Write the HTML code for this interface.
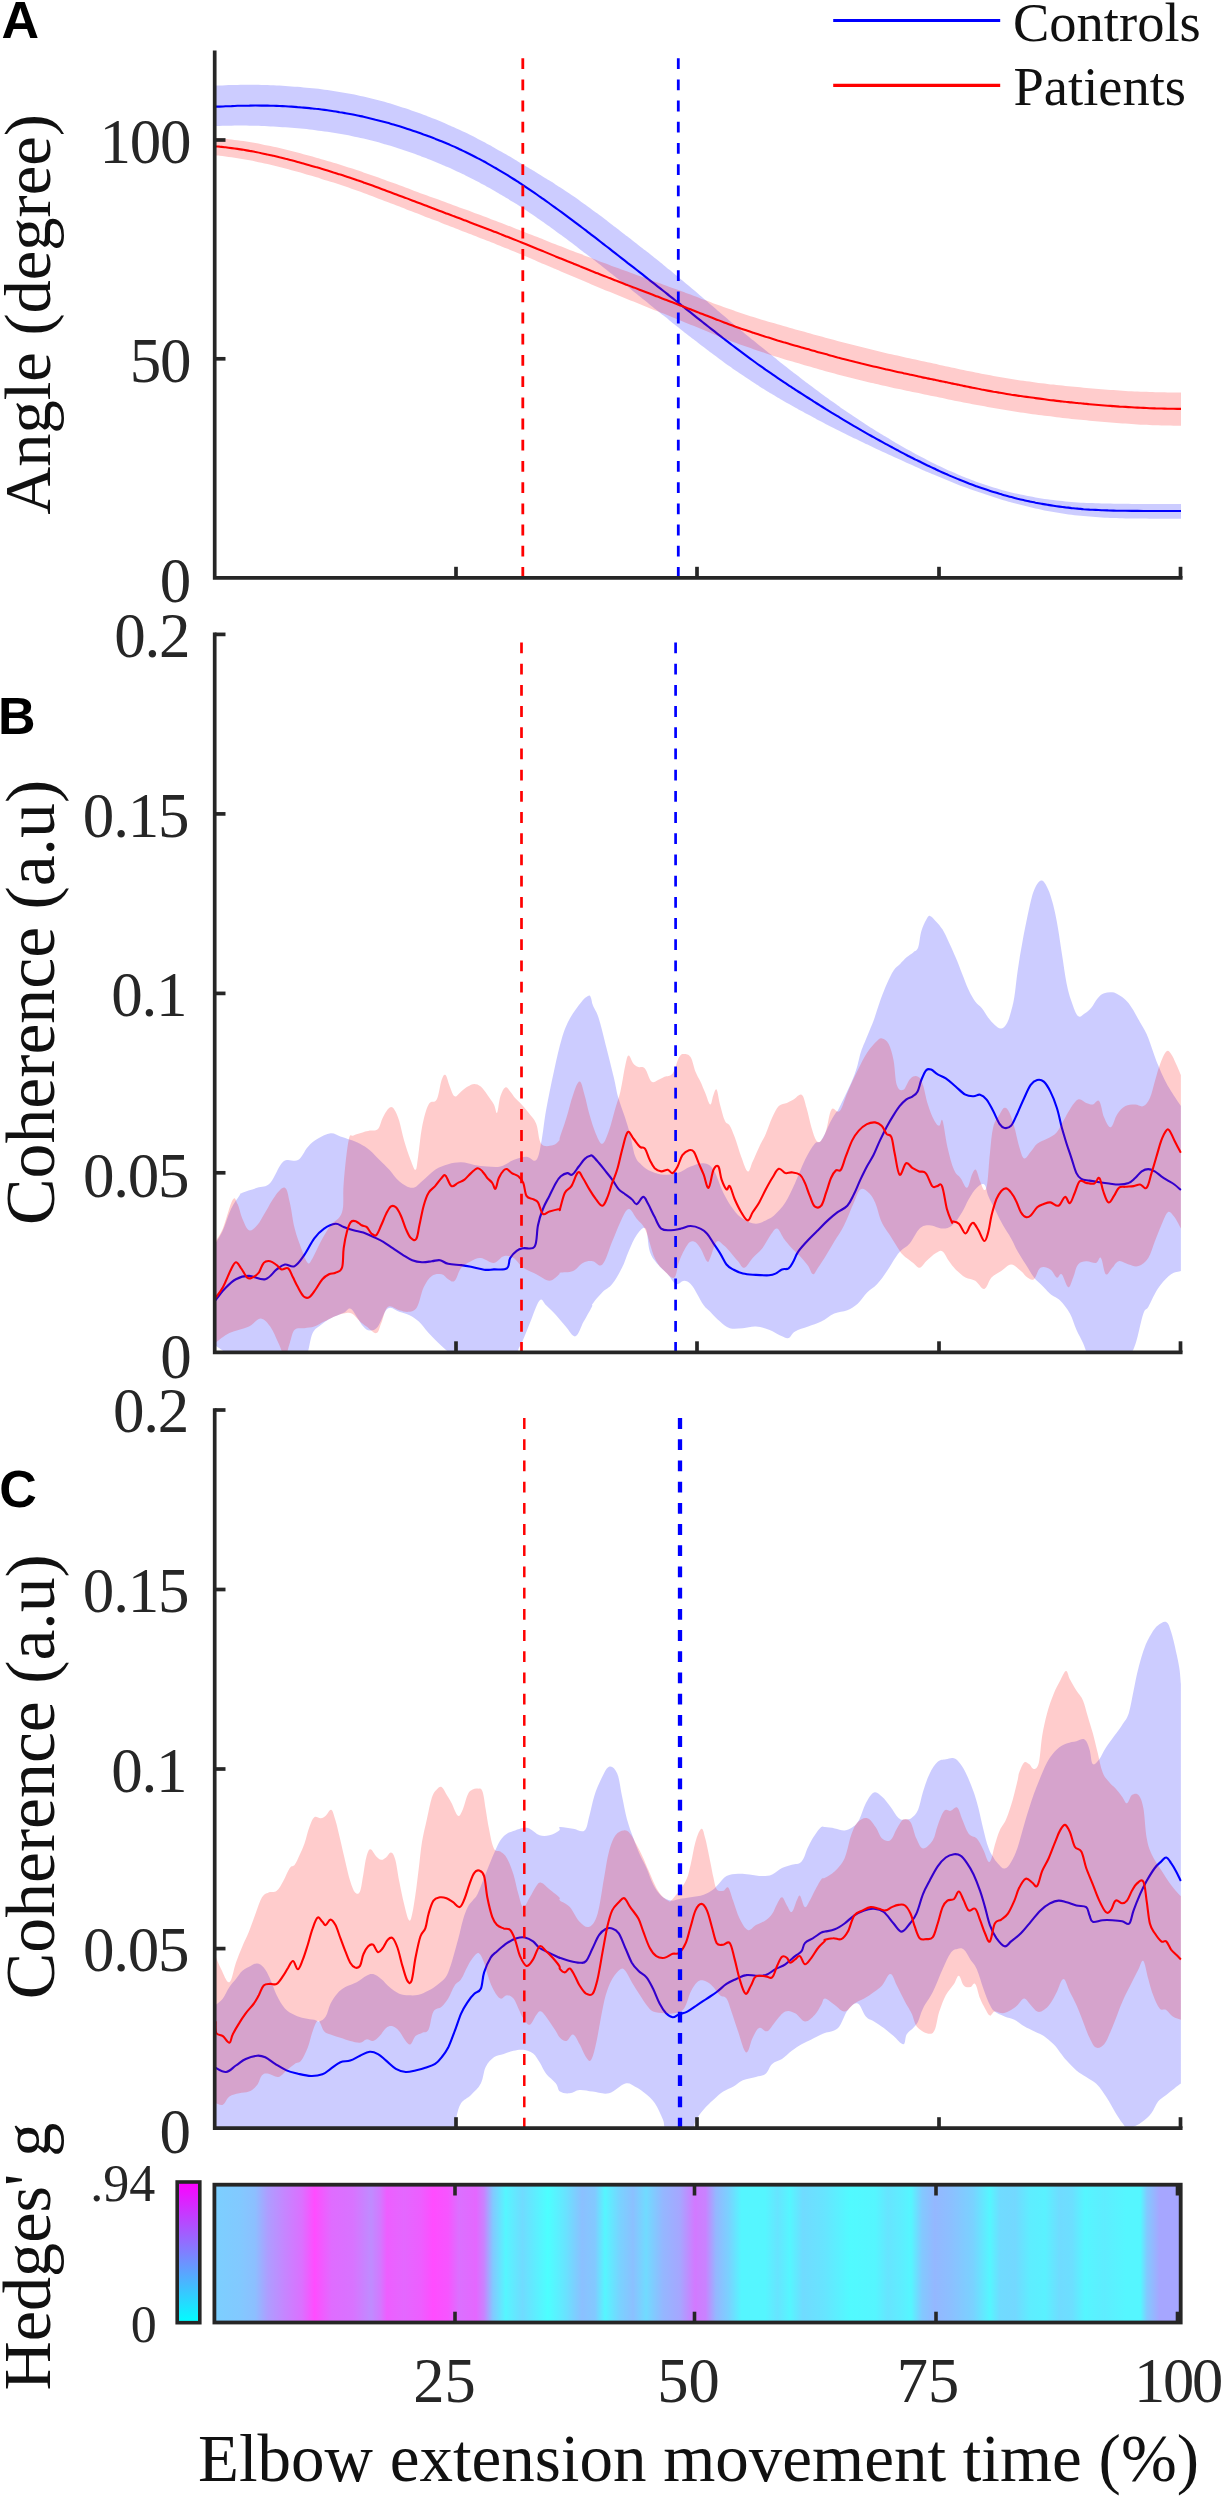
<!DOCTYPE html>
<html><head><meta charset="utf-8"><title>Figure</title>
<style>html,body{margin:0;padding:0;background:#fff}svg{display:block}</style></head>
<body>
<svg width="1225" height="2500" viewBox="0 0 1225 2500">
<defs>
<clipPath id="clipa"><rect x="214.7" y="50" width="967.0" height="527.6"/></clipPath>
<clipPath id="clipb"><rect x="214.7" y="634.4" width="967.0" height="717.9"/></clipPath>
<clipPath id="clipc"><rect x="214.7" y="1410" width="967.0" height="718.1999999999998"/></clipPath>
<linearGradient id="hm" gradientUnits="userSpaceOnUse" x1="214" y1="0" x2="1181" y2="0"><stop offset="0.0010" stop-color="rgb(124,207,255)"/><stop offset="0.0269" stop-color="rgb(130,201,255)"/><stop offset="0.0424" stop-color="rgb(140,191,255)"/><stop offset="0.0558" stop-color="rgb(174,157,255)"/><stop offset="0.0734" stop-color="rgb(198,133,255)"/><stop offset="0.0910" stop-color="rgb(219,112,255)"/><stop offset="0.1040" stop-color="rgb(255,76,255)"/><stop offset="0.1117" stop-color="rgb(241,90,255)"/><stop offset="0.1216" stop-color="rgb(223,108,255)"/><stop offset="0.1437" stop-color="rgb(216,115,255)"/><stop offset="0.1624" stop-color="rgb(191,140,255)"/><stop offset="0.1717" stop-color="rgb(210,121,255)"/><stop offset="0.1789" stop-color="rgb(237,94,255)"/><stop offset="0.1965" stop-color="rgb(228,103,255)"/><stop offset="0.2141" stop-color="rgb(237,94,255)"/><stop offset="0.2265" stop-color="rgb(255,76,255)"/><stop offset="0.2420" stop-color="rgb(246,85,255)"/><stop offset="0.2534" stop-color="rgb(219,112,255)"/><stop offset="0.2709" stop-color="rgb(228,103,255)"/><stop offset="0.2792" stop-color="rgb(201,130,255)"/><stop offset="0.2885" stop-color="rgb(130,201,255)"/><stop offset="0.3016" stop-color="rgb(85,246,255)"/><stop offset="0.3191" stop-color="rgb(112,219,255)"/><stop offset="0.3320" stop-color="rgb(94,237,255)"/><stop offset="0.3454" stop-color="rgb(76,255,255)"/><stop offset="0.3630" stop-color="rgb(103,228,255)"/><stop offset="0.3806" stop-color="rgb(139,192,255)"/><stop offset="0.3940" stop-color="rgb(130,201,255)"/><stop offset="0.4043" stop-color="rgb(85,246,255)"/><stop offset="0.4199" stop-color="rgb(121,210,255)"/><stop offset="0.4333" stop-color="rgb(139,192,255)"/><stop offset="0.4467" stop-color="rgb(112,219,255)"/><stop offset="0.4643" stop-color="rgb(148,183,255)"/><stop offset="0.4819" stop-color="rgb(166,166,255)"/><stop offset="0.4974" stop-color="rgb(210,121,255)"/><stop offset="0.5083" stop-color="rgb(201,130,255)"/><stop offset="0.5191" stop-color="rgb(148,183,255)"/><stop offset="0.5326" stop-color="rgb(121,210,255)"/><stop offset="0.5455" stop-color="rgb(85,246,255)"/><stop offset="0.5698" stop-color="rgb(85,246,255)"/><stop offset="0.5828" stop-color="rgb(103,228,255)"/><stop offset="0.5957" stop-color="rgb(85,246,255)"/><stop offset="0.6091" stop-color="rgb(112,219,255)"/><stop offset="0.6308" stop-color="rgb(103,228,255)"/><stop offset="0.6577" stop-color="rgb(81,250,255)"/><stop offset="0.6836" stop-color="rgb(85,246,255)"/><stop offset="0.6970" stop-color="rgb(103,228,255)"/><stop offset="0.7101" stop-color="rgb(94,237,255)"/><stop offset="0.7208" stop-color="rgb(85,246,255)"/><stop offset="0.7322" stop-color="rgb(130,201,255)"/><stop offset="0.7453" stop-color="rgb(148,183,255)"/><stop offset="0.7628" stop-color="rgb(139,192,255)"/><stop offset="0.7849" stop-color="rgb(121,210,255)"/><stop offset="0.8025" stop-color="rgb(85,246,255)"/><stop offset="0.8128" stop-color="rgb(112,219,255)"/><stop offset="0.8283" stop-color="rgb(115,216,255)"/><stop offset="0.8438" stop-color="rgb(94,237,255)"/><stop offset="0.8594" stop-color="rgb(90,241,255)"/><stop offset="0.8749" stop-color="rgb(112,219,255)"/><stop offset="0.8873" stop-color="rgb(108,223,255)"/><stop offset="0.9007" stop-color="rgb(85,246,255)"/><stop offset="0.9204" stop-color="rgb(94,237,255)"/><stop offset="0.9427" stop-color="rgb(85,246,255)"/><stop offset="0.9581" stop-color="rgb(85,246,255)"/><stop offset="0.9648" stop-color="rgb(130,201,255)"/><stop offset="0.9779" stop-color="rgb(166,166,255)"/><stop offset="1.0000" stop-color="rgb(166,166,255)"/></linearGradient>
<linearGradient id="cb" x1="0" y1="0" x2="0" y2="1"><stop offset="0" stop-color="#ff00ff"/><stop offset="1" stop-color="#00ffff"/></linearGradient>
</defs>
<path d="M215.5,85.4C216.2,85.4 217.7,85.5 219.5,85.4C221.3,85.4 223.3,85.3 225.5,85.2C227.7,85.1 229.3,85.1 231.5,85.0C233.7,85.0 235.3,84.9 237.5,84.9C239.7,84.9 241.3,84.8 243.5,84.8C245.7,84.8 247.3,84.8 249.5,84.8C251.7,84.8 253.3,84.8 255.5,84.8C257.7,84.9 259.3,84.9 261.5,85.0C263.7,85.0 265.3,85.0 267.5,85.1C269.7,85.2 271.3,85.3 273.5,85.3C275.7,85.4 277.3,85.5 279.5,85.6C281.7,85.7 283.3,85.8 285.5,86.0C287.7,86.1 289.3,86.2 291.5,86.4C293.7,86.5 295.3,86.7 297.5,86.8C299.7,87.0 301.3,87.2 303.5,87.4C305.7,87.6 307.3,87.7 309.5,87.9C311.7,88.2 313.3,88.3 315.5,88.6C317.7,88.8 319.3,89.0 321.5,89.3C323.7,89.6 325.3,89.8 327.5,90.1C329.7,90.4 331.3,90.6 333.5,91.0C335.7,91.3 337.3,91.5 339.5,91.9C341.7,92.2 343.3,92.5 345.5,92.9C347.7,93.3 349.3,93.6 351.5,94.0C353.7,94.4 355.3,94.8 357.5,95.2C359.7,95.7 361.3,96.0 363.5,96.5C365.7,97.0 367.3,97.4 369.5,97.9C371.7,98.5 373.3,98.9 375.5,99.4C377.7,100.0 379.3,100.4 381.5,101.0C383.7,101.6 385.3,102.1 387.5,102.7C389.7,103.3 391.3,103.8 393.5,104.5C395.7,105.2 397.3,105.7 399.5,106.4C401.7,107.1 403.3,107.6 405.5,108.3C407.7,109.0 409.3,109.6 411.5,110.4C413.7,111.1 415.3,111.7 417.5,112.5C419.7,113.2 421.3,113.9 423.5,114.7C425.7,115.5 427.3,116.1 429.5,117.0C431.7,117.8 433.3,118.5 435.5,119.3C437.7,120.2 439.3,120.9 441.5,121.8C443.7,122.7 445.3,123.4 447.5,124.4C449.7,125.3 451.3,126.0 453.5,127.0C455.7,128.0 457.3,128.8 459.5,129.8C461.7,130.8 463.3,131.6 465.5,132.6C467.7,133.7 469.3,134.5 471.5,135.6C473.7,136.7 475.3,137.5 477.5,138.7C479.7,139.8 481.3,140.7 483.5,141.8C485.7,143.0 487.3,143.9 489.5,145.1C491.7,146.3 493.3,147.2 495.5,148.4C497.7,149.6 499.3,150.6 501.5,151.8C503.7,153.1 505.3,154.0 507.5,155.3C509.7,156.6 511.3,157.5 513.5,158.8C515.7,160.1 517.3,161.1 519.5,162.4C521.7,163.7 523.3,164.7 525.5,166.0C527.7,167.3 529.3,168.3 531.5,169.6C533.7,170.9 535.3,171.9 537.5,173.2C539.7,174.5 541.3,175.5 543.5,176.9C545.7,178.2 547.3,179.2 549.5,180.6C551.7,181.9 553.3,183.0 555.5,184.4C557.7,185.8 559.3,186.8 561.5,188.3C563.7,189.7 565.3,190.8 567.5,192.2C569.7,193.7 571.3,194.9 573.5,196.3C575.7,197.8 577.3,199.0 579.5,200.5C581.7,202.1 583.3,203.3 585.5,204.8C587.7,206.4 589.3,207.6 591.5,209.2C593.7,210.8 595.3,212.0 597.5,213.6C599.7,215.3 601.3,216.5 603.5,218.1C605.7,219.8 607.3,221.0 609.5,222.7C611.7,224.3 613.3,225.6 615.5,227.3C617.7,228.9 619.3,230.2 621.5,231.9C623.7,233.5 625.3,234.8 627.5,236.5C629.7,238.2 631.3,239.5 633.5,241.2C635.7,242.9 637.3,244.2 639.5,245.9C641.7,247.6 643.3,248.9 645.5,250.6C647.7,252.3 649.3,253.6 651.5,255.3C653.7,257.1 655.3,258.4 657.5,260.1C659.7,261.8 661.3,263.2 663.5,264.9C665.7,266.7 667.3,268.0 669.5,269.8C671.7,271.6 673.3,272.9 675.5,274.7C677.7,276.5 679.3,277.9 681.5,279.7C683.7,281.5 685.3,282.9 687.5,284.7C689.7,286.6 691.3,288.0 693.5,289.8C695.7,291.7 697.3,293.1 699.5,295.0C701.7,296.8 703.3,298.3 705.5,300.1C707.7,302.0 709.3,303.5 711.5,305.3C713.7,307.2 715.3,308.6 717.5,310.5C719.7,312.4 721.3,313.8 723.5,315.6C725.7,317.5 727.3,318.9 729.5,320.8C731.7,322.6 733.3,324.0 735.5,325.8C737.7,327.6 739.3,329.0 741.5,330.8C743.7,332.6 745.3,334.0 747.5,335.7C749.7,337.5 751.3,338.9 753.5,340.6C755.7,342.4 757.3,343.8 759.5,345.5C761.7,347.2 763.3,348.6 765.5,350.3C767.7,352.1 769.3,353.4 771.5,355.1C773.7,356.9 775.3,358.2 777.5,359.9C779.7,361.6 781.3,363.0 783.5,364.7C785.7,366.4 787.3,367.7 789.5,369.4C791.7,371.1 793.3,372.4 795.5,374.1C797.7,375.7 799.3,377.0 801.5,378.7C803.7,380.4 805.3,381.6 807.5,383.3C809.7,384.9 811.3,386.2 813.5,387.8C815.7,389.4 817.3,390.7 819.5,392.3C821.7,393.9 823.3,395.1 825.5,396.7C827.7,398.2 829.3,399.4 831.5,401.0C833.7,402.5 835.3,403.7 837.5,405.2C839.7,406.8 841.3,407.9 843.5,409.4C845.7,410.9 847.3,412.1 849.5,413.5C851.7,415.0 853.3,416.1 855.5,417.5C857.7,419.0 859.3,420.1 861.5,421.5C863.7,422.9 865.3,424.0 867.5,425.4C869.7,426.8 871.3,427.8 873.5,429.2C875.7,430.6 877.3,431.6 879.5,433.0C881.7,434.3 883.3,435.3 885.5,436.6C887.7,437.9 889.3,438.9 891.5,440.2C893.7,441.5 895.3,442.5 897.5,443.8C899.7,445.0 901.3,446.0 903.5,447.2C905.7,448.4 907.3,449.4 909.5,450.6C911.7,451.8 913.3,452.7 915.5,453.9C917.7,455.0 919.3,455.9 921.5,457.1C923.7,458.2 925.3,459.1 927.5,460.2C929.7,461.3 931.3,462.1 933.5,463.2C935.7,464.3 937.3,465.1 939.5,466.1C941.7,467.1 943.3,467.9 945.5,468.9C947.7,469.9 949.3,470.7 951.5,471.6C953.7,472.6 955.3,473.3 957.5,474.2C959.7,475.2 961.3,475.9 963.5,476.7C965.7,477.6 967.3,478.3 969.5,479.1C971.7,480.0 973.3,480.6 975.5,481.4C977.7,482.2 979.3,482.8 981.5,483.5C983.7,484.3 985.3,484.9 987.5,485.6C989.7,486.3 991.3,486.8 993.5,487.5C995.7,488.1 997.3,488.6 999.5,489.2C1001.7,489.9 1003.3,490.3 1005.5,490.9C1007.7,491.5 1009.3,491.9 1011.5,492.4C1013.7,492.9 1015.3,493.3 1017.5,493.8C1019.7,494.3 1021.3,494.7 1023.5,495.1C1025.7,495.6 1027.3,495.9 1029.5,496.3C1031.7,496.7 1033.3,497.0 1035.5,497.4C1037.7,497.8 1039.3,498.1 1041.5,498.4C1043.7,498.7 1045.3,499.0 1047.5,499.3C1049.7,499.6 1051.3,499.8 1053.5,500.1C1055.7,500.4 1057.3,500.6 1059.5,500.8C1061.7,501.0 1063.3,501.2 1065.5,501.4C1067.7,501.6 1069.3,501.8 1071.5,501.9C1073.7,502.1 1075.3,502.2 1077.5,502.4C1079.7,502.5 1081.3,502.6 1083.5,502.8C1085.7,502.9 1087.3,503.0 1089.5,503.1C1091.7,503.2 1093.3,503.2 1095.5,503.3C1097.7,503.4 1099.3,503.4 1101.5,503.5C1103.7,503.5 1105.3,503.6 1107.5,503.6C1109.7,503.7 1111.3,503.7 1113.5,503.7C1115.7,503.7 1117.3,503.8 1119.5,503.8C1121.7,503.8 1123.3,503.8 1125.5,503.8C1127.7,503.8 1129.3,503.8 1131.5,503.9C1133.7,503.9 1135.3,503.9 1137.5,503.9C1139.7,503.9 1141.3,503.9 1143.5,503.9C1145.7,503.9 1147.3,503.9 1149.5,503.9C1151.7,503.9 1153.3,503.9 1155.5,503.9C1157.7,503.9 1159.3,503.9 1161.5,503.9C1163.7,503.9 1165.3,503.9 1167.5,503.9C1169.7,503.9 1171.3,503.9 1173.5,503.9C1175.7,503.9 1178.2,503.9 1179.5,503.9C1180.8,503.9 1180.7,503.9 1181.0,503.9L1181.0,518.8C1180.7,518.8 1180.8,518.8 1179.5,518.8C1178.2,518.8 1175.7,518.8 1173.5,518.8C1171.3,518.8 1169.7,518.8 1167.5,518.8C1165.3,518.7 1163.7,518.7 1161.5,518.7C1159.3,518.7 1157.7,518.7 1155.5,518.7C1153.3,518.7 1151.7,518.7 1149.5,518.7C1147.3,518.7 1145.7,518.7 1143.5,518.6C1141.3,518.6 1139.7,518.6 1137.5,518.6C1135.3,518.6 1133.7,518.6 1131.5,518.5C1129.3,518.5 1127.7,518.5 1125.5,518.4C1123.3,518.4 1121.7,518.3 1119.5,518.3C1117.3,518.2 1115.7,518.2 1113.5,518.1C1111.3,518.0 1109.7,517.9 1107.5,517.8C1105.3,517.7 1103.7,517.6 1101.5,517.5C1099.3,517.4 1097.7,517.3 1095.5,517.1C1093.3,517.0 1091.7,516.8 1089.5,516.6C1087.3,516.5 1085.7,516.3 1083.5,516.1C1081.3,515.9 1079.7,515.7 1077.5,515.5C1075.3,515.2 1073.7,515.0 1071.5,514.7C1069.3,514.5 1067.7,514.2 1065.5,513.9C1063.3,513.6 1061.7,513.4 1059.5,513.0C1057.3,512.7 1055.7,512.4 1053.5,512.0C1051.3,511.6 1049.7,511.3 1047.5,510.9C1045.3,510.5 1043.7,510.2 1041.5,509.7C1039.3,509.3 1037.7,508.9 1035.5,508.5C1033.3,508.0 1031.7,507.6 1029.5,507.1C1027.3,506.6 1025.7,506.2 1023.5,505.6C1021.3,505.1 1019.7,504.6 1017.5,504.1C1015.3,503.5 1013.7,503.0 1011.5,502.4C1009.3,501.8 1007.7,501.4 1005.5,500.7C1003.3,500.1 1001.7,499.6 999.5,498.9C997.3,498.3 995.7,497.8 993.5,497.1C991.3,496.4 989.7,495.8 987.5,495.1C985.3,494.4 983.7,493.9 981.5,493.1C979.3,492.4 977.7,491.8 975.5,491.0C973.3,490.3 971.7,489.7 969.5,488.9C967.3,488.1 965.7,487.5 963.5,486.7C961.3,485.9 959.7,485.2 957.5,484.4C955.3,483.6 953.7,482.9 951.5,482.0C949.3,481.2 947.7,480.5 945.5,479.6C943.3,478.7 941.7,478.0 939.5,477.1C937.3,476.2 935.7,475.5 933.5,474.6C931.3,473.7 929.7,473.0 927.5,472.0C925.3,471.1 923.7,470.4 921.5,469.4C919.3,468.5 917.7,467.7 915.5,466.8C913.3,465.8 911.7,465.0 909.5,464.1C907.3,463.1 905.7,462.3 903.5,461.3C901.3,460.3 899.7,459.6 897.5,458.6C895.3,457.6 893.7,456.8 891.5,455.8C889.3,454.8 887.7,454.0 885.5,453.0C883.3,452.0 881.7,451.2 879.5,450.2C877.3,449.2 875.7,448.4 873.5,447.4C871.3,446.4 869.7,445.6 867.5,444.6C865.3,443.5 863.7,442.8 861.5,441.7C859.3,440.7 857.7,439.9 855.5,438.8C853.3,437.8 851.7,437.0 849.5,435.9C847.3,434.9 845.7,434.1 843.5,433.0C841.3,431.9 839.7,431.1 837.5,430.0C835.3,428.9 833.7,428.1 831.5,426.9C829.3,425.8 827.7,425.0 825.5,423.9C823.3,422.7 821.7,421.8 819.5,420.7C817.3,419.6 815.7,418.7 813.5,417.5C811.3,416.4 809.7,415.4 807.5,414.3C805.3,413.1 803.7,412.2 801.5,411.0C799.3,409.8 797.7,408.9 795.5,407.7C793.3,406.5 791.7,405.5 789.5,404.3C787.3,403.1 785.7,402.1 783.5,400.9C781.3,399.6 779.7,398.6 777.5,397.4C775.3,396.1 773.7,395.1 771.5,393.8C769.3,392.5 767.7,391.5 765.5,390.2C763.3,388.8 761.7,387.8 759.5,386.4C757.3,385.1 755.7,384.0 753.5,382.6C751.3,381.2 749.7,380.1 747.5,378.6C745.3,377.2 743.7,376.1 741.5,374.6C739.3,373.1 737.7,372.0 735.5,370.5C733.3,368.9 731.7,367.8 729.5,366.2C727.3,364.7 725.7,363.5 723.5,361.9C721.3,360.3 719.7,359.1 717.5,357.5C715.3,355.9 713.7,354.7 711.5,353.1C709.3,351.4 707.7,350.2 705.5,348.5C703.3,346.9 701.7,345.6 699.5,344.0C697.3,342.3 695.7,341.0 693.5,339.3C691.3,337.7 689.7,336.4 687.5,334.7C685.3,333.0 683.7,331.6 681.5,329.9C679.3,328.2 677.7,326.9 675.5,325.2C673.3,323.5 671.7,322.1 669.5,320.4C667.3,318.6 665.7,317.3 663.5,315.6C661.3,313.8 659.7,312.5 657.5,310.7C655.3,309.0 653.7,307.6 651.5,305.9C649.3,304.1 647.7,302.8 645.5,301.0C643.3,299.3 641.7,297.9 639.5,296.2C637.3,294.4 635.7,293.1 633.5,291.4C631.3,289.6 629.7,288.3 627.5,286.5C625.3,284.8 623.7,283.5 621.5,281.7C619.3,280.0 617.7,278.7 615.5,277.0C613.3,275.2 611.7,273.9 609.5,272.2C607.3,270.5 605.7,269.2 603.5,267.5C601.3,265.8 599.7,264.5 597.5,262.8C595.3,261.1 593.7,259.8 591.5,258.1C589.3,256.4 587.7,255.1 585.5,253.5C583.3,251.8 581.7,250.5 579.5,248.9C577.3,247.2 575.7,246.0 573.5,244.3C571.3,242.7 569.7,241.4 567.5,239.8C565.3,238.2 563.7,236.9 561.5,235.3C559.3,233.8 557.7,232.5 555.5,230.9C553.3,229.4 551.7,228.2 549.5,226.6C547.3,225.1 545.7,223.9 543.5,222.3C541.3,220.8 539.7,219.7 537.5,218.2C535.3,216.7 533.7,215.5 531.5,214.1C529.3,212.6 527.7,211.5 525.5,210.0C523.3,208.6 521.7,207.5 519.5,206.1C517.3,204.7 515.7,203.6 513.5,202.3C511.3,200.9 509.7,199.9 507.5,198.6C505.3,197.2 503.7,196.2 501.5,194.9C499.3,193.7 497.7,192.7 495.5,191.4C493.3,190.2 491.7,189.2 489.5,188.0C487.3,186.8 485.7,185.9 483.5,184.7C481.3,183.6 479.7,182.7 477.5,181.5C475.3,180.4 473.7,179.6 471.5,178.5C469.3,177.4 467.7,176.5 465.5,175.5C463.3,174.4 461.7,173.6 459.5,172.6C457.3,171.6 455.7,170.8 453.5,169.8C451.3,168.8 449.7,168.0 447.5,167.1C445.3,166.1 443.7,165.4 441.5,164.5C439.3,163.6 437.7,162.9 435.5,162.0C433.3,161.1 431.7,160.4 429.5,159.6C427.3,158.7 425.7,158.1 423.5,157.3C421.3,156.4 419.7,155.8 417.5,155.0C415.3,154.2 413.7,153.6 411.5,152.8C409.3,152.1 407.7,151.5 405.5,150.8C403.3,150.0 401.7,149.5 399.5,148.8C397.3,148.0 395.7,147.5 393.5,146.8C391.3,146.1 389.7,145.6 387.5,145.0C385.3,144.3 383.7,143.9 381.5,143.2C379.3,142.6 377.7,142.2 375.5,141.6C373.3,141.0 371.7,140.6 369.5,140.0C367.3,139.5 365.7,139.1 363.5,138.6C361.3,138.1 359.7,137.7 357.5,137.2C355.3,136.7 353.7,136.4 351.5,135.9C349.3,135.5 347.7,135.2 345.5,134.8C343.3,134.4 341.7,134.1 339.5,133.7C337.3,133.3 335.7,133.1 333.5,132.7C331.3,132.4 329.7,132.1 327.5,131.8C325.3,131.5 323.7,131.3 321.5,131.0C319.3,130.7 317.7,130.5 315.5,130.2C313.3,129.9 311.7,129.7 309.5,129.5C307.3,129.2 305.7,129.1 303.5,128.8C301.3,128.6 299.7,128.5 297.5,128.3C295.3,128.1 293.7,127.9 291.5,127.7C289.3,127.6 287.7,127.4 285.5,127.3C283.3,127.1 281.7,127.0 279.5,126.9C277.3,126.7 275.7,126.6 273.5,126.5C271.3,126.4 269.7,126.3 267.5,126.2C265.3,126.1 263.7,126.0 261.5,126.0C259.3,125.9 257.7,125.8 255.5,125.8C253.3,125.7 251.7,125.7 249.5,125.7C247.3,125.6 245.7,125.6 243.5,125.6C241.3,125.6 239.7,125.6 237.5,125.6C235.3,125.6 233.7,125.6 231.5,125.7C229.3,125.7 227.7,125.7 225.5,125.8C223.3,125.8 221.3,125.9 219.5,125.9C217.7,125.9 216.2,125.9 215.5,125.9Z" fill="#0000ff" fill-opacity="0.2" clip-path="url(#clipa)"/>
<path d="M215.5,106.6C216.2,106.6 217.7,106.7 219.5,106.6C221.3,106.6 223.3,106.4 225.5,106.3C227.7,106.2 229.3,106.1 231.5,106.1C233.7,106.0 235.3,105.9 237.5,105.8C239.7,105.8 241.3,105.7 243.5,105.7C245.7,105.6 247.3,105.6 249.5,105.6C251.7,105.5 253.3,105.5 255.5,105.5C257.7,105.5 259.3,105.5 261.5,105.6C263.7,105.6 265.3,105.6 267.5,105.6C269.7,105.7 271.3,105.7 273.5,105.8C275.7,105.9 277.3,105.9 279.5,106.0C281.7,106.1 283.3,106.2 285.5,106.3C287.7,106.4 289.3,106.5 291.5,106.6C293.7,106.8 295.3,106.9 297.5,107.1C299.7,107.2 301.3,107.4 303.5,107.6C305.7,107.8 307.3,107.9 309.5,108.1C311.7,108.4 313.3,108.5 315.5,108.8C317.7,109.0 319.3,109.2 321.5,109.5C323.7,109.8 325.3,110.0 327.5,110.3C329.7,110.6 331.3,110.9 333.5,111.2C335.7,111.5 337.3,111.8 339.5,112.2C341.7,112.5 343.3,112.8 345.5,113.2C347.7,113.6 349.3,113.9 351.5,114.3C353.7,114.8 355.3,115.1 357.5,115.5C359.7,116.0 361.3,116.3 363.5,116.8C365.7,117.3 367.3,117.7 369.5,118.2C371.7,118.7 373.3,119.1 375.5,119.7C377.7,120.2 379.3,120.6 381.5,121.2C383.7,121.8 385.3,122.2 387.5,122.8C389.7,123.4 391.3,123.9 393.5,124.5C395.7,125.2 397.3,125.7 399.5,126.3C401.7,127.0 403.3,127.5 405.5,128.2C407.7,128.9 409.3,129.5 411.5,130.2C413.7,130.9 415.3,131.5 417.5,132.2C419.7,133.0 421.3,133.6 423.5,134.4C425.7,135.1 427.3,135.8 429.5,136.6C431.7,137.4 433.3,138.0 435.5,138.9C437.7,139.7 439.3,140.4 441.5,141.3C443.7,142.2 445.3,142.9 447.5,143.8C449.7,144.7 451.3,145.5 453.5,146.4C455.7,147.4 457.3,148.2 459.5,149.2C461.7,150.2 463.3,151.0 465.5,152.0C467.7,153.1 469.3,153.9 471.5,155.0C473.7,156.1 475.3,156.9 477.5,158.1C479.7,159.2 481.3,160.1 483.5,161.3C485.7,162.4 487.3,163.4 489.5,164.6C491.7,165.8 493.3,166.8 495.5,168.0C497.7,169.3 499.3,170.3 501.5,171.6C503.7,172.9 505.3,173.9 507.5,175.2C509.7,176.6 511.3,177.6 513.5,179.0C515.7,180.4 517.3,181.5 519.5,182.9C521.7,184.3 523.3,185.4 525.5,186.8C527.7,188.3 529.3,189.4 531.5,190.9C533.7,192.4 535.3,193.5 537.5,195.0C539.7,196.5 541.3,197.7 543.5,199.2C545.7,200.7 547.3,201.9 549.5,203.5C551.7,205.0 553.3,206.2 555.5,207.8C557.7,209.4 559.3,210.6 561.5,212.2C563.7,213.8 565.3,215.0 567.5,216.6C569.7,218.2 571.3,219.5 573.5,221.1C575.7,222.7 577.3,224.0 579.5,225.6C581.7,227.3 583.3,228.6 585.5,230.2C587.7,231.9 589.3,233.2 591.5,234.8C593.7,236.5 595.3,237.8 597.5,239.4C599.7,241.1 601.3,242.4 603.5,244.1C605.7,245.8 607.3,247.1 609.5,248.7C611.7,250.4 613.3,251.7 615.5,253.4C617.7,255.1 619.3,256.4 621.5,258.1C623.7,259.8 625.3,261.1 627.5,262.8C629.7,264.4 631.3,265.8 633.5,267.4C635.7,269.1 637.3,270.4 639.5,272.1C641.7,273.8 643.3,275.1 645.5,276.8C647.7,278.5 649.3,279.9 651.5,281.6C653.7,283.3 655.3,284.6 657.5,286.3C659.7,288.0 661.3,289.3 663.5,291.0C665.7,292.7 667.3,294.1 669.5,295.8C671.7,297.5 673.3,298.8 675.5,300.5C677.7,302.2 679.3,303.6 681.5,305.3C683.7,307.0 685.3,308.4 687.5,310.1C689.7,311.8 691.3,313.1 693.5,314.8C695.7,316.6 697.3,317.9 699.5,319.6C701.7,321.3 703.3,322.7 705.5,324.4C707.7,326.1 709.3,327.4 711.5,329.1C713.7,330.8 715.3,332.1 717.5,333.8C719.7,335.5 721.3,336.8 723.5,338.5C725.7,340.2 727.3,341.5 729.5,343.1C731.7,344.8 733.3,346.1 735.5,347.7C737.7,349.3 739.3,350.6 741.5,352.2C743.7,353.8 745.3,355.0 747.5,356.6C749.7,358.2 751.3,359.4 753.5,361.0C755.7,362.6 757.3,363.8 759.5,365.3C761.7,366.9 763.3,368.0 765.5,369.6C767.7,371.1 769.3,372.2 771.5,373.7C773.7,375.2 775.3,376.4 777.5,377.8C779.7,379.3 781.3,380.4 783.5,381.9C785.7,383.3 787.3,384.4 789.5,385.9C791.7,387.3 793.3,388.4 795.5,389.8C797.7,391.2 799.3,392.3 801.5,393.7C803.7,395.1 805.3,396.2 807.5,397.5C809.7,398.9 811.3,400.0 813.5,401.4C815.7,402.7 817.3,403.8 819.5,405.1C821.7,406.5 823.3,407.5 825.5,408.9C827.7,410.2 829.3,411.2 831.5,412.6C833.7,413.9 835.3,414.9 837.5,416.2C839.7,417.5 841.3,418.6 843.5,419.8C845.7,421.1 847.3,422.1 849.5,423.4C851.7,424.7 853.3,425.7 855.5,426.9C857.7,428.2 859.3,429.1 861.5,430.4C863.7,431.6 865.3,432.6 867.5,433.8C869.7,435.0 871.3,436.0 873.5,437.2C875.7,438.4 877.3,439.3 879.5,440.5C881.7,441.7 883.3,442.6 885.5,443.8C887.7,445.0 889.3,445.9 891.5,447.0C893.7,448.2 895.3,449.1 897.5,450.2C899.7,451.4 901.3,452.3 903.5,453.4C905.7,454.5 907.3,455.4 909.5,456.5C911.7,457.6 913.3,458.5 915.5,459.6C917.7,460.6 919.3,461.5 921.5,462.5C923.7,463.6 925.3,464.4 927.5,465.5C929.7,466.5 931.3,467.3 933.5,468.3C935.7,469.3 937.3,470.1 939.5,471.1C941.7,472.1 943.3,472.8 945.5,473.8C947.7,474.7 949.3,475.5 951.5,476.4C953.7,477.3 955.3,478.0 957.5,478.9C959.7,479.8 961.3,480.5 963.5,481.3C965.7,482.2 967.3,482.8 969.5,483.7C971.7,484.5 973.3,485.1 975.5,485.9C977.7,486.7 979.3,487.3 981.5,488.0C983.7,488.8 985.3,489.3 987.5,490.0C989.7,490.7 991.3,491.3 993.5,491.9C995.7,492.6 997.3,493.1 999.5,493.8C1001.7,494.4 1003.3,494.9 1005.5,495.5C1007.7,496.1 1009.3,496.6 1011.5,497.1C1013.7,497.7 1015.3,498.1 1017.5,498.7C1019.7,499.2 1021.3,499.6 1023.5,500.1C1025.7,500.6 1027.3,501.0 1029.5,501.4C1031.7,501.9 1033.3,502.2 1035.5,502.7C1037.7,503.1 1039.3,503.4 1041.5,503.8C1043.7,504.2 1045.3,504.5 1047.5,504.8C1049.7,505.2 1051.3,505.5 1053.5,505.8C1055.7,506.1 1057.3,506.3 1059.5,506.6C1061.7,506.9 1063.3,507.1 1065.5,507.4C1067.7,507.6 1069.3,507.8 1071.5,508.1C1073.7,508.3 1075.3,508.5 1077.5,508.6C1079.7,508.8 1081.3,509.0 1083.5,509.2C1085.7,509.3 1087.3,509.4 1089.5,509.6C1091.7,509.7 1093.3,509.8 1095.5,509.9C1097.7,510.0 1099.3,510.1 1101.5,510.2C1103.7,510.3 1105.3,510.4 1107.5,510.4C1109.7,510.5 1111.3,510.6 1113.5,510.6C1115.7,510.7 1117.3,510.7 1119.5,510.8C1121.7,510.8 1123.3,510.8 1125.5,510.8C1127.7,510.9 1129.3,510.9 1131.5,510.9C1133.7,510.9 1135.3,510.9 1137.5,510.9C1139.7,511.0 1141.3,511.0 1143.5,511.0C1145.7,511.0 1147.3,511.0 1149.5,511.0C1151.7,511.0 1153.3,511.0 1155.5,511.0C1157.7,511.0 1159.3,511.0 1161.5,511.0C1163.7,511.0 1165.3,511.0 1167.5,511.0C1169.7,511.0 1171.3,511.0 1173.5,511.0C1175.7,511.0 1178.2,511.0 1179.5,511.0C1180.8,511.0 1180.7,511.0 1181.0,511.0" fill="none" stroke="#0000ff" stroke-width="2.1" stroke-linejoin="round" clip-path="url(#clipa)"/>
<path d="M215.5,138.1C216.2,138.1 217.7,138.0 219.5,138.1C221.3,138.2 223.3,138.5 225.5,138.7C227.7,139.0 229.3,139.2 231.5,139.4C233.7,139.7 235.3,139.9 237.5,140.2C239.7,140.5 241.3,140.8 243.5,141.1C245.7,141.4 247.3,141.7 249.5,142.0C251.7,142.4 253.3,142.7 255.5,143.1C257.7,143.5 259.3,143.8 261.5,144.2C263.7,144.7 265.3,145.0 267.5,145.5C269.7,145.9 271.3,146.3 273.5,146.8C275.7,147.2 277.3,147.6 279.5,148.1C281.7,148.6 283.3,149.0 285.5,149.6C287.7,150.1 289.3,150.5 291.5,151.1C293.7,151.6 295.3,152.1 297.5,152.6C299.7,153.2 301.3,153.6 303.5,154.2C305.7,154.8 307.3,155.2 309.5,155.8C311.7,156.4 313.3,156.9 315.5,157.5C317.7,158.1 319.3,158.5 321.5,159.2C323.7,159.8 325.3,160.3 327.5,160.9C329.7,161.5 331.3,162.0 333.5,162.7C335.7,163.3 337.3,163.8 339.5,164.5C341.7,165.2 343.3,165.7 345.5,166.4C347.7,167.1 349.3,167.6 351.5,168.3C353.7,169.1 355.3,169.6 357.5,170.3C359.7,171.1 361.3,171.6 363.5,172.4C365.7,173.1 367.3,173.7 369.5,174.5C371.7,175.2 373.3,175.8 375.5,176.6C377.7,177.4 379.3,178.0 381.5,178.8C383.7,179.6 385.3,180.2 387.5,180.9C389.7,181.7 391.3,182.3 393.5,183.1C395.7,183.9 397.3,184.5 399.5,185.3C401.7,186.1 403.3,186.7 405.5,187.5C407.7,188.3 409.3,188.9 411.5,189.7C413.7,190.5 415.3,191.2 417.5,191.9C419.7,192.7 421.3,193.4 423.5,194.2C425.7,194.9 427.3,195.6 429.5,196.4C431.7,197.1 433.3,197.8 435.5,198.6C437.7,199.4 439.3,200.0 441.5,200.8C443.7,201.6 445.3,202.2 447.5,203.0C449.7,203.8 451.3,204.4 453.5,205.2C455.7,206.0 457.3,206.6 459.5,207.4C461.7,208.2 463.3,208.8 465.5,209.6C467.7,210.4 469.3,211.0 471.5,211.8C473.7,212.6 475.3,213.3 477.5,214.1C479.7,214.9 481.3,215.5 483.5,216.3C485.7,217.1 487.3,217.7 489.5,218.5C491.7,219.4 493.3,220.0 495.5,220.8C497.7,221.6 499.3,222.3 501.5,223.1C503.7,223.9 505.3,224.6 507.5,225.4C509.7,226.2 511.3,226.9 513.5,227.7C515.7,228.5 517.3,229.2 519.5,230.0C521.7,230.9 523.3,231.5 525.5,232.4C527.7,233.2 529.3,233.9 531.5,234.8C533.7,235.6 535.3,236.3 537.5,237.1C539.7,238.0 541.3,238.6 543.5,239.5C545.7,240.3 547.3,241.0 549.5,241.9C551.7,242.7 553.3,243.4 555.5,244.2C557.7,245.1 559.3,245.7 561.5,246.6C563.7,247.4 565.3,248.1 567.5,248.9C569.7,249.7 571.3,250.4 573.5,251.2C575.7,252.1 577.3,252.7 579.5,253.6C581.7,254.4 583.3,255.0 585.5,255.9C587.7,256.7 589.3,257.3 591.5,258.1C593.7,259.0 595.3,259.6 597.5,260.4C599.7,261.2 601.3,261.9 603.5,262.7C605.7,263.5 607.3,264.1 609.5,264.9C611.7,265.8 613.3,266.4 615.5,267.2C617.7,268.0 619.3,268.6 621.5,269.4C623.7,270.2 625.3,270.8 627.5,271.6C629.7,272.4 631.3,273.1 633.5,273.8C635.7,274.6 637.3,275.3 639.5,276.0C641.7,276.8 643.3,277.4 645.5,278.2C647.7,279.0 649.3,279.6 651.5,280.4C653.7,281.2 655.3,281.8 657.5,282.6C659.7,283.3 661.3,284.0 663.5,284.7C665.7,285.5 667.3,286.1 669.5,286.9C671.7,287.7 673.3,288.3 675.5,289.1C677.7,289.9 679.3,290.5 681.5,291.3C683.7,292.1 685.3,292.7 687.5,293.6C689.7,294.4 691.3,295.0 693.5,295.8C695.7,296.6 697.3,297.2 699.5,298.0C701.7,298.9 703.3,299.5 705.5,300.3C707.7,301.1 709.3,301.7 711.5,302.5C713.7,303.4 715.3,304.0 717.5,304.8C719.7,305.6 721.3,306.2 723.5,307.0C725.7,307.7 727.3,308.3 729.5,309.1C731.7,309.9 733.3,310.4 735.5,311.2C737.7,311.9 739.3,312.5 741.5,313.2C743.7,313.9 745.3,314.5 747.5,315.2C749.7,315.9 751.3,316.4 753.5,317.1C755.7,317.7 757.3,318.3 759.5,318.9C761.7,319.6 763.3,320.1 765.5,320.7C767.7,321.4 769.3,321.9 771.5,322.5C773.7,323.1 775.3,323.6 777.5,324.3C779.7,324.9 781.3,325.4 783.5,326.0C785.7,326.6 787.3,327.1 789.5,327.7C791.7,328.3 793.3,328.8 795.5,329.4C797.7,330.0 799.3,330.5 801.5,331.1C803.7,331.7 805.3,332.2 807.5,332.8C809.7,333.4 811.3,333.8 813.5,334.4C815.7,335.0 817.3,335.5 819.5,336.1C821.7,336.7 823.3,337.1 825.5,337.7C827.7,338.3 829.3,338.7 831.5,339.3C833.7,339.9 835.3,340.3 837.5,340.9C839.7,341.5 841.3,341.9 843.5,342.5C845.7,343.0 847.3,343.5 849.5,344.0C851.7,344.6 853.3,345.0 855.5,345.6C857.7,346.1 859.3,346.5 861.5,347.1C863.7,347.6 865.3,348.0 867.5,348.5C869.7,349.1 871.3,349.5 873.5,350.0C875.7,350.5 877.3,350.9 879.5,351.4C881.7,352.0 883.3,352.4 885.5,352.9C887.7,353.4 889.3,353.8 891.5,354.3C893.7,354.8 895.3,355.1 897.5,355.6C899.7,356.1 901.3,356.5 903.5,357.0C905.7,357.5 907.3,357.8 909.5,358.3C911.7,358.8 913.3,359.2 915.5,359.6C917.7,360.1 919.3,360.5 921.5,361.0C923.7,361.4 925.3,361.8 927.5,362.3C929.7,362.7 931.3,363.1 933.5,363.6C935.7,364.0 937.3,364.4 939.5,364.9C941.7,365.3 943.3,365.7 945.5,366.2C947.7,366.6 949.3,367.0 951.5,367.5C953.7,367.9 955.3,368.3 957.5,368.7C959.7,369.2 961.3,369.6 963.5,370.0C965.7,370.5 967.3,370.8 969.5,371.3C971.7,371.7 973.3,372.1 975.5,372.5C977.7,372.9 979.3,373.3 981.5,373.7C983.7,374.1 985.3,374.4 987.5,374.8C989.7,375.2 991.3,375.5 993.5,375.9C995.7,376.3 997.3,376.6 999.5,377.0C1001.7,377.3 1003.3,377.6 1005.5,378.0C1007.7,378.3 1009.3,378.6 1011.5,378.9C1013.7,379.3 1015.3,379.5 1017.5,379.9C1019.7,380.2 1021.3,380.4 1023.5,380.7C1025.7,381.1 1027.3,381.3 1029.5,381.6C1031.7,381.9 1033.3,382.1 1035.5,382.4C1037.7,382.7 1039.3,382.9 1041.5,383.2C1043.7,383.4 1045.3,383.7 1047.5,383.9C1049.7,384.2 1051.3,384.4 1053.5,384.6C1055.7,384.9 1057.3,385.1 1059.5,385.3C1061.7,385.5 1063.3,385.7 1065.5,385.9C1067.7,386.2 1069.3,386.3 1071.5,386.6C1073.7,386.8 1075.3,386.9 1077.5,387.1C1079.7,387.4 1081.3,387.5 1083.5,387.7C1085.7,387.9 1087.3,388.0 1089.5,388.2C1091.7,388.4 1093.3,388.6 1095.5,388.7C1097.7,388.9 1099.3,389.1 1101.5,389.2C1103.7,389.4 1105.3,389.5 1107.5,389.7C1109.7,389.8 1111.3,390.0 1113.5,390.1C1115.7,390.3 1117.3,390.4 1119.5,390.5C1121.7,390.6 1123.3,390.8 1125.5,390.9C1127.7,391.0 1129.3,391.1 1131.5,391.2C1133.7,391.3 1135.3,391.4 1137.5,391.5C1139.7,391.6 1141.3,391.7 1143.5,391.8C1145.7,391.9 1147.3,391.9 1149.5,392.0C1151.7,392.1 1153.3,392.1 1155.5,392.2C1157.7,392.2 1159.3,392.3 1161.5,392.3C1163.7,392.4 1165.3,392.4 1167.5,392.5C1169.7,392.5 1171.3,392.5 1173.5,392.5C1175.7,392.6 1178.2,392.6 1179.5,392.6C1180.8,392.6 1180.7,392.6 1181.0,392.6L1181.0,425.8C1180.7,425.8 1180.8,425.8 1179.5,425.8C1178.2,425.8 1175.7,425.7 1173.5,425.7C1171.3,425.6 1169.7,425.6 1167.5,425.5C1165.3,425.5 1163.7,425.4 1161.5,425.4C1159.3,425.3 1157.7,425.2 1155.5,425.2C1153.3,425.1 1151.7,425.0 1149.5,424.9C1147.3,424.8 1145.7,424.8 1143.5,424.7C1141.3,424.6 1139.7,424.5 1137.5,424.4C1135.3,424.2 1133.7,424.1 1131.5,424.0C1129.3,423.9 1127.7,423.8 1125.5,423.6C1123.3,423.5 1121.7,423.4 1119.5,423.2C1117.3,423.0 1115.7,422.9 1113.5,422.8C1111.3,422.6 1109.7,422.5 1107.5,422.3C1105.3,422.1 1103.7,422.0 1101.5,421.8C1099.3,421.6 1097.7,421.4 1095.5,421.3C1093.3,421.1 1091.7,420.9 1089.5,420.7C1087.3,420.5 1085.7,420.3 1083.5,420.1C1081.3,419.9 1079.7,419.7 1077.5,419.5C1075.3,419.3 1073.7,419.1 1071.5,418.9C1069.3,418.6 1067.7,418.5 1065.5,418.2C1063.3,418.0 1061.7,417.8 1059.5,417.5C1057.3,417.3 1055.7,417.1 1053.5,416.8C1051.3,416.6 1049.7,416.3 1047.5,416.1C1045.3,415.8 1043.7,415.6 1041.5,415.3C1039.3,415.0 1037.7,414.8 1035.5,414.5C1033.3,414.2 1031.7,414.0 1029.5,413.7C1027.3,413.4 1025.7,413.1 1023.5,412.8C1021.3,412.5 1019.7,412.2 1017.5,411.9C1015.3,411.6 1013.7,411.3 1011.5,411.0C1009.3,410.6 1007.7,410.4 1005.5,410.0C1003.3,409.7 1001.7,409.4 999.5,409.0C997.3,408.7 995.7,408.4 993.5,408.0C991.3,407.6 989.7,407.3 987.5,406.9C985.3,406.6 983.7,406.2 981.5,405.8C979.3,405.4 977.7,405.1 975.5,404.7C973.3,404.3 971.7,404.0 969.5,403.5C967.3,403.1 965.7,402.8 963.5,402.4C961.3,401.9 959.7,401.6 957.5,401.2C955.3,400.7 953.7,400.4 951.5,399.9C949.3,399.5 947.7,399.2 945.5,398.7C943.3,398.3 941.7,397.9 939.5,397.5C937.3,397.1 935.7,396.7 933.5,396.3C931.3,395.8 929.7,395.5 927.5,395.0C925.3,394.6 923.7,394.3 921.5,393.8C919.3,393.4 917.7,393.0 915.5,392.6C913.3,392.1 911.7,391.8 909.5,391.3C907.3,390.9 905.7,390.5 903.5,390.0C901.3,389.6 899.7,389.2 897.5,388.8C895.3,388.3 893.7,387.9 891.5,387.4C889.3,387.0 887.7,386.6 885.5,386.1C883.3,385.6 881.7,385.2 879.5,384.7C877.3,384.2 875.7,383.9 873.5,383.3C871.3,382.8 869.7,382.4 867.5,381.9C865.3,381.4 863.7,381.0 861.5,380.5C859.3,380.0 857.7,379.6 855.5,379.0C853.3,378.5 851.7,378.1 849.5,377.5C847.3,377.0 845.7,376.5 843.5,376.0C841.3,375.4 839.7,375.0 837.5,374.4C835.3,373.8 833.7,373.4 831.5,372.8C829.3,372.2 827.7,371.8 825.5,371.2C823.3,370.6 821.7,370.1 819.5,369.5C817.3,368.9 815.7,368.4 813.5,367.8C811.3,367.2 809.7,366.7 807.5,366.1C805.3,365.5 803.7,365.0 801.5,364.3C799.3,363.7 797.7,363.2 795.5,362.6C793.3,361.9 791.7,361.4 789.5,360.8C787.3,360.1 785.7,359.6 783.5,358.9C781.3,358.3 779.7,357.7 777.5,357.1C775.3,356.4 773.7,355.8 771.5,355.2C769.3,354.5 767.7,353.9 765.5,353.2C763.3,352.5 761.7,352.0 759.5,351.2C757.3,350.5 755.7,350.0 753.5,349.2C751.3,348.5 749.7,347.9 747.5,347.1C745.3,346.4 743.7,345.7 741.5,345.0C739.3,344.2 737.7,343.5 735.5,342.7C733.3,341.9 731.7,341.3 729.5,340.4C727.3,339.6 725.7,338.9 723.5,338.1C721.3,337.2 719.7,336.6 717.5,335.7C715.3,334.8 713.7,334.1 711.5,333.2C709.3,332.4 707.7,331.7 705.5,330.8C703.3,329.9 701.7,329.2 699.5,328.3C697.3,327.4 695.7,326.7 693.5,325.8C691.3,324.9 689.7,324.2 687.5,323.4C685.3,322.5 683.7,321.8 681.5,320.9C679.3,320.0 677.7,319.3 675.5,318.5C673.3,317.6 671.7,316.9 669.5,316.1C667.3,315.2 665.7,314.5 663.5,313.6C661.3,312.8 659.7,312.1 657.5,311.2C655.3,310.4 653.7,309.7 651.5,308.9C649.3,308.0 647.7,307.3 645.5,306.5C643.3,305.6 641.7,304.9 639.5,304.0C637.3,303.2 635.7,302.5 633.5,301.6C631.3,300.8 629.7,300.1 627.5,299.2C625.3,298.3 623.7,297.6 621.5,296.8C619.3,295.9 617.7,295.2 615.5,294.3C613.3,293.4 611.7,292.7 609.5,291.8C607.3,290.9 605.7,290.3 603.5,289.4C601.3,288.5 599.7,287.8 597.5,286.9C595.3,286.0 593.7,285.3 591.5,284.4C589.3,283.5 587.7,282.8 585.5,281.8C583.3,280.9 581.7,280.2 579.5,279.3C577.3,278.4 575.7,277.7 573.5,276.8C571.3,275.9 569.7,275.1 567.5,274.2C565.3,273.3 563.7,272.6 561.5,271.7C559.3,270.7 557.7,270.0 555.5,269.1C553.3,268.2 551.7,267.5 549.5,266.5C547.3,265.6 545.7,264.9 543.5,264.0C541.3,263.0 539.7,262.3 537.5,261.4C535.3,260.5 533.7,259.8 531.5,258.8C529.3,257.9 527.7,257.2 525.5,256.3C523.3,255.4 521.7,254.7 519.5,253.8C517.3,252.9 515.7,252.2 513.5,251.3C511.3,250.4 509.7,249.7 507.5,248.8C505.3,248.0 503.7,247.3 501.5,246.4C499.3,245.5 497.7,244.9 495.5,244.0C493.3,243.1 491.7,242.5 489.5,241.6C487.3,240.8 485.7,240.1 483.5,239.2C481.3,238.4 479.7,237.7 477.5,236.9C475.3,236.0 473.7,235.4 471.5,234.5C469.3,233.7 467.7,233.0 465.5,232.2C463.3,231.4 461.7,230.7 459.5,229.9C457.3,229.0 455.7,228.4 453.5,227.5C451.3,226.7 449.7,226.0 447.5,225.2C445.3,224.4 443.7,223.7 441.5,222.9C439.3,222.0 437.7,221.4 435.5,220.6C433.3,219.7 431.7,219.1 429.5,218.2C427.3,217.4 425.7,216.8 423.5,215.9C421.3,215.1 419.7,214.4 417.5,213.6C415.3,212.8 413.7,212.1 411.5,211.3C409.3,210.4 407.7,209.8 405.5,208.9C403.3,208.1 401.7,207.5 399.5,206.6C397.3,205.8 395.7,205.1 393.5,204.3C391.3,203.5 389.7,202.8 387.5,202.0C385.3,201.2 383.7,200.5 381.5,199.7C379.3,198.9 377.7,198.2 375.5,197.4C373.3,196.6 371.7,196.0 369.5,195.2C367.3,194.4 365.7,193.8 363.5,193.0C361.3,192.2 359.7,191.6 357.5,190.8C355.3,190.0 353.7,189.4 351.5,188.7C349.3,187.9 347.7,187.3 345.5,186.6C343.3,185.9 341.7,185.3 339.5,184.6C337.3,183.9 335.7,183.3 333.5,182.6C331.3,182.0 329.7,181.4 327.5,180.7C325.3,180.1 323.7,179.5 321.5,178.9C319.3,178.2 317.7,177.7 315.5,177.1C313.3,176.4 311.7,175.9 309.5,175.3C307.3,174.7 305.7,174.2 303.5,173.5C301.3,172.9 299.7,172.4 297.5,171.8C295.3,171.2 293.7,170.8 291.5,170.2C289.3,169.6 287.7,169.1 285.5,168.5C283.3,168.0 281.7,167.5 279.5,167.0C277.3,166.4 275.7,166.0 273.5,165.5C271.3,165.0 269.7,164.5 267.5,164.0C265.3,163.5 263.7,163.2 261.5,162.7C259.3,162.2 257.7,161.9 255.5,161.4C253.3,161.0 251.7,160.7 249.5,160.3C247.3,159.9 245.7,159.6 243.5,159.2C241.3,158.8 239.7,158.5 237.5,158.2C235.3,157.9 233.7,157.6 231.5,157.3C229.3,157.0 227.7,156.8 225.5,156.5C223.3,156.2 221.3,155.8 219.5,155.7C217.7,155.5 216.2,155.7 215.5,155.7Z" fill="#ff0000" fill-opacity="0.2" clip-path="url(#clipa)"/>
<path d="M215.5,146.6C216.2,146.6 217.7,146.4 219.5,146.6C221.3,146.7 223.3,147.0 225.5,147.3C227.7,147.6 229.3,147.8 231.5,148.1C233.7,148.4 235.3,148.6 237.5,148.9C239.7,149.2 241.3,149.5 243.5,149.8C245.7,150.2 247.3,150.5 249.5,150.9C251.7,151.2 253.3,151.6 255.5,152.0C257.7,152.4 259.3,152.7 261.5,153.2C263.7,153.6 265.3,154.0 267.5,154.5C269.7,154.9 271.3,155.3 273.5,155.8C275.7,156.3 277.3,156.7 279.5,157.3C281.7,157.8 283.3,158.2 285.5,158.8C287.7,159.3 289.3,159.8 291.5,160.3C293.7,160.9 295.3,161.3 297.5,161.9C299.7,162.5 301.3,163.0 303.5,163.6C305.7,164.2 307.3,164.6 309.5,165.3C311.7,165.9 313.3,166.3 315.5,167.0C317.7,167.6 319.3,168.1 321.5,168.7C323.7,169.4 325.3,169.9 327.5,170.5C329.7,171.2 331.3,171.7 333.5,172.4C335.7,173.0 337.3,173.6 339.5,174.3C341.7,174.9 343.3,175.5 345.5,176.2C347.7,176.9 349.3,177.5 351.5,178.2C353.7,178.9 355.3,179.5 357.5,180.3C359.7,181.0 361.3,181.6 363.5,182.4C365.7,183.2 367.3,183.8 369.5,184.5C371.7,185.3 373.3,185.9 375.5,186.7C377.7,187.5 379.3,188.1 381.5,188.9C383.7,189.7 385.3,190.4 387.5,191.2C389.7,192.0 391.3,192.6 393.5,193.4C395.7,194.2 397.3,194.9 399.5,195.7C401.7,196.5 403.3,197.1 405.5,197.9C407.7,198.8 409.3,199.4 411.5,200.2C413.7,201.0 415.3,201.7 417.5,202.5C419.7,203.3 421.3,203.9 423.5,204.7C425.7,205.5 427.3,206.2 429.5,207.0C431.7,207.8 433.3,208.4 435.5,209.3C437.7,210.1 439.3,210.7 441.5,211.5C443.7,212.3 445.3,213.0 447.5,213.8C449.7,214.6 451.3,215.2 453.5,216.1C455.7,216.9 457.3,217.5 459.5,218.3C461.7,219.1 463.3,219.8 465.5,220.6C467.7,221.4 469.3,222.1 471.5,222.9C473.7,223.7 475.3,224.3 477.5,225.2C479.7,226.0 481.3,226.6 483.5,227.5C485.7,228.3 487.3,228.9 489.5,229.8C491.7,230.6 493.3,231.3 495.5,232.1C497.7,232.9 499.3,233.6 501.5,234.5C503.7,235.3 505.3,236.0 507.5,236.8C509.7,237.7 511.3,238.3 513.5,239.2C515.7,240.1 517.3,240.7 519.5,241.6C521.7,242.5 523.3,243.2 525.5,244.0C527.7,244.9 529.3,245.6 531.5,246.5C533.7,247.4 535.3,248.1 537.5,249.0C539.7,249.8 541.3,250.5 543.5,251.4C545.7,252.3 547.3,253.0 549.5,253.9C551.7,254.8 553.3,255.5 555.5,256.4C557.7,257.2 559.3,257.9 561.5,258.8C563.7,259.7 565.3,260.4 567.5,261.3C569.7,262.1 571.3,262.8 573.5,263.7C575.7,264.6 577.3,265.3 579.5,266.1C581.7,267.0 583.3,267.7 585.5,268.5C587.7,269.4 589.3,270.1 591.5,271.0C593.7,271.8 595.3,272.5 597.5,273.3C599.7,274.2 601.3,274.9 603.5,275.7C605.7,276.6 607.3,277.2 609.5,278.1C611.7,278.9 613.3,279.6 615.5,280.4C617.7,281.3 619.3,282.0 621.5,282.8C623.7,283.6 625.3,284.3 627.5,285.1C629.7,286.0 631.3,286.6 633.5,287.4C635.7,288.3 637.3,288.9 639.5,289.7C641.7,290.6 643.3,291.2 645.5,292.0C647.7,292.9 649.3,293.5 651.5,294.3C653.7,295.1 655.3,295.8 657.5,296.6C659.7,297.4 661.3,298.1 663.5,298.9C665.7,299.7 667.3,300.4 669.5,301.2C671.7,302.0 673.3,302.7 675.5,303.5C677.7,304.3 679.3,305.0 681.5,305.8C683.7,306.7 685.3,307.3 687.5,308.2C689.7,309.0 691.3,309.7 693.5,310.5C695.7,311.4 697.3,312.0 699.5,312.9C701.7,313.7 703.3,314.4 705.5,315.2C707.7,316.1 709.3,316.8 711.5,317.6C713.7,318.4 715.3,319.1 717.5,319.9C719.7,320.8 721.3,321.4 723.5,322.2C725.7,323.0 727.3,323.7 729.5,324.5C731.7,325.3 733.3,325.9 735.5,326.7C737.7,327.4 739.3,328.0 741.5,328.8C743.7,329.5 745.3,330.1 747.5,330.8C749.7,331.6 751.3,332.1 753.5,332.8C755.7,333.5 757.3,334.1 759.5,334.8C761.7,335.5 763.3,336.0 765.5,336.7C767.7,337.3 769.3,337.9 771.5,338.5C773.7,339.2 775.3,339.7 777.5,340.4C779.7,341.0 781.3,341.5 783.5,342.2C785.7,342.8 787.3,343.3 789.5,343.9C791.7,344.6 793.3,345.1 795.5,345.7C797.7,346.3 799.3,346.8 801.5,347.4C803.7,348.0 805.3,348.5 807.5,349.1C809.7,349.7 811.3,350.2 813.5,350.8C815.7,351.4 817.3,351.9 819.5,352.5C821.7,353.1 823.3,353.5 825.5,354.1C827.7,354.7 829.3,355.2 831.5,355.8C833.7,356.3 835.3,356.8 837.5,357.4C839.7,357.9 841.3,358.4 843.5,358.9C845.7,359.5 847.3,359.9 849.5,360.5C851.7,361.0 853.3,361.4 855.5,362.0C857.7,362.5 859.3,362.9 861.5,363.5C863.7,364.0 865.3,364.4 867.5,364.9C869.7,365.5 871.3,365.9 873.5,366.4C875.7,366.9 877.3,367.3 879.5,367.8C881.7,368.3 883.3,368.7 885.5,369.2C887.7,369.7 889.3,370.1 891.5,370.5C893.7,371.0 895.3,371.4 897.5,371.9C899.7,372.4 901.3,372.7 903.5,373.2C905.7,373.7 907.3,374.1 909.5,374.5C911.7,375.0 913.3,375.4 915.5,375.8C917.7,376.3 919.3,376.6 921.5,377.1C923.7,377.5 925.3,377.9 927.5,378.4C929.7,378.8 931.3,379.2 933.5,379.6C935.7,380.1 937.3,380.4 939.5,380.9C941.7,381.3 943.3,381.7 945.5,382.1C947.7,382.6 949.3,382.9 951.5,383.4C953.7,383.8 955.3,384.2 957.5,384.6C959.7,385.1 961.3,385.4 963.5,385.9C965.7,386.3 967.3,386.7 969.5,387.1C971.7,387.5 973.3,387.9 975.5,388.3C977.7,388.7 979.3,389.0 981.5,389.5C983.7,389.9 985.3,390.2 987.5,390.6C989.7,391.0 991.3,391.3 993.5,391.7C995.7,392.0 997.3,392.3 999.5,392.7C1001.7,393.1 1003.3,393.4 1005.5,393.7C1007.7,394.1 1009.3,394.3 1011.5,394.7C1013.7,395.0 1015.3,395.3 1017.5,395.6C1019.7,395.9 1021.3,396.2 1023.5,396.5C1025.7,396.8 1027.3,397.0 1029.5,397.3C1031.7,397.6 1033.3,397.9 1035.5,398.1C1037.7,398.4 1039.3,398.7 1041.5,398.9C1043.7,399.2 1045.3,399.4 1047.5,399.7C1049.7,400.0 1051.3,400.2 1053.5,400.4C1055.7,400.7 1057.3,400.9 1059.5,401.1C1061.7,401.4 1063.3,401.5 1065.5,401.8C1067.7,402.0 1069.3,402.2 1071.5,402.4C1073.7,402.6 1075.3,402.8 1077.5,403.0C1079.7,403.2 1081.3,403.4 1083.5,403.6C1085.7,403.8 1087.3,404.0 1089.5,404.2C1091.7,404.4 1093.3,404.5 1095.5,404.7C1097.7,404.9 1099.3,405.0 1101.5,405.2C1103.7,405.4 1105.3,405.5 1107.5,405.7C1109.7,405.8 1111.3,406.0 1113.5,406.1C1115.7,406.3 1117.3,406.4 1119.5,406.6C1121.7,406.7 1123.3,406.8 1125.5,406.9C1127.7,407.1 1129.3,407.2 1131.5,407.3C1133.7,407.4 1135.3,407.5 1137.5,407.6C1139.7,407.7 1141.3,407.8 1143.5,407.9C1145.7,408.0 1147.3,408.1 1149.5,408.2C1151.7,408.2 1153.3,408.3 1155.5,408.4C1157.7,408.4 1159.3,408.5 1161.5,408.5C1163.7,408.6 1165.3,408.6 1167.5,408.7C1169.7,408.7 1171.3,408.8 1173.5,408.8C1175.7,408.8 1178.2,408.9 1179.5,408.9C1180.8,408.9 1180.7,408.9 1181.0,408.9" fill="none" stroke="#ff0000" stroke-width="2.1" stroke-linejoin="round" clip-path="url(#clipa)"/>
<path d="M215.5,1243.3C216.8,1240.9 220.1,1236.4 222.9,1230.2C225.7,1224.0 228.1,1215.2 231.0,1209.0C234.0,1202.8 237.1,1198.9 239.2,1195.9C241.2,1193.0 239.2,1194.1 242.4,1192.7C245.7,1191.2 252.1,1189.5 257.1,1187.8C262.1,1186.0 265.5,1187.6 270.2,1182.9C274.9,1178.2 278.3,1165.7 283.3,1161.6C288.3,1157.5 293.6,1162.6 298.0,1160.0C302.4,1157.4 304.2,1150.8 307.8,1146.9C311.3,1143.1 313.4,1141.2 317.6,1138.8C321.7,1136.3 326.5,1133.6 330.6,1133.2C334.7,1132.8 336.9,1135.3 340.4,1136.5C343.9,1137.7 346.7,1138.5 350.2,1139.8C353.7,1141.0 356.5,1141.8 360.0,1143.7C363.5,1145.6 366.3,1147.3 369.8,1150.2C373.3,1153.1 376.1,1156.5 379.6,1160.0C383.1,1163.5 385.9,1166.0 389.4,1169.8C392.9,1173.6 395.1,1178.0 399.2,1181.2C403.3,1184.5 408.1,1187.8 412.2,1187.8C416.4,1187.8 417.9,1184.5 422.0,1181.2C426.2,1178.0 430.4,1172.9 435.1,1169.8C439.8,1166.7 443.5,1165.6 448.2,1164.2C452.9,1162.9 456.5,1162.2 461.2,1162.3C465.9,1162.4 469.6,1164.1 474.3,1164.9C479.0,1165.7 482.6,1166.2 487.3,1166.5C492.0,1166.8 495.7,1167.7 500.4,1166.5C505.1,1165.4 508.8,1161.8 513.5,1160.0C518.2,1158.2 522.4,1156.7 526.5,1156.7C530.6,1156.7 533.6,1162.9 536.3,1160.0C539.0,1157.1 539.8,1149.4 541.6,1140.4C543.3,1131.4 543.9,1122.6 546.1,1110.0C548.4,1097.5 551.1,1083.7 554.0,1070.9C556.8,1058.0 559.0,1047.9 561.8,1038.5C564.6,1029.2 566.1,1025.5 569.6,1018.9C573.2,1012.4 578.0,1006.1 581.4,1002.0C584.8,997.8 586.8,996.5 588.6,995.8C590.3,995.0 590.2,996.3 591.0,998.0C591.8,999.8 591.6,1002.0 593.0,1005.6C594.3,1009.1 596.2,1010.5 598.5,1017.6C600.8,1024.7 603.0,1034.2 605.7,1045.1C608.5,1055.9 611.6,1068.4 613.9,1077.7C616.1,1087.1 616.2,1090.0 618.1,1097.0C620.1,1104.0 622.5,1110.0 624.7,1116.6C626.8,1123.2 628.0,1126.4 629.9,1133.6C631.8,1140.7 633.0,1150.4 635.1,1156.1C637.2,1161.7 638.7,1162.1 641.6,1164.9C644.6,1167.7 647.3,1169.7 651.4,1171.4C655.5,1173.2 659.8,1174.4 664.5,1174.7C669.2,1175.0 672.8,1174.5 677.6,1173.1C682.3,1171.6 685.9,1168.3 690.6,1166.5C695.3,1164.8 699.6,1162.7 703.7,1163.3C707.8,1163.9 709.9,1164.5 713.5,1169.8C717.0,1175.1 719.7,1185.6 723.3,1192.7C726.8,1199.7 729.5,1204.3 733.1,1209.0C736.6,1213.7 738.7,1216.1 742.9,1218.8C747.0,1221.4 751.2,1223.7 755.9,1223.7C760.6,1223.7 765.5,1220.5 769.0,1218.8C772.5,1217.0 772.6,1216.8 775.5,1213.9C778.4,1210.9 781.8,1208.0 785.3,1202.4C788.8,1196.9 791.6,1190.5 795.1,1182.9C798.6,1175.2 801.4,1167.1 804.9,1160.0C808.4,1152.9 811.8,1147.2 814.7,1143.7C817.6,1140.1 818.3,1144.5 821.2,1140.4C824.2,1136.3 828.4,1125.8 831.0,1120.8C833.7,1115.8 834.4,1115.0 835.9,1112.7C837.4,1110.3 835.9,1114.6 839.2,1107.8C842.5,1101.0 850.5,1084.9 854.4,1074.9C858.3,1064.9 858.6,1059.1 860.9,1052.0C863.3,1045.0 865.1,1041.6 867.4,1035.7C869.8,1029.8 871.6,1025.9 874.0,1019.4C876.3,1012.9 878.2,1006.3 880.5,999.8C882.9,993.3 884.7,988.8 887.0,983.5C889.4,978.2 891.2,973.9 893.6,970.4C895.9,966.9 897.8,966.2 900.1,963.9C902.5,961.5 904.3,959.4 906.6,957.3C909.0,955.3 911.1,954.2 913.2,952.4C915.2,950.7 916.6,951.4 918.1,947.6C919.5,943.7 919.9,936.2 921.3,931.2C922.8,926.2 924.6,922.6 926.2,919.8C927.8,917.0 928.4,915.6 930.1,915.9C931.9,916.2 933.8,919.0 936.0,921.4C938.3,923.9 940.2,925.8 942.6,929.6C944.9,933.4 946.7,937.7 949.1,942.7C951.4,947.6 953.3,951.8 955.6,957.3C958.0,962.9 959.8,967.8 962.1,973.7C964.5,979.6 966.3,985.0 968.7,990.0C971.0,995.0 972.9,998.2 975.2,1001.4C977.6,1004.7 979.4,1005.0 981.7,1008.0C984.1,1010.9 985.9,1014.7 988.3,1017.8C990.6,1020.8 992.4,1023.0 994.8,1024.9C997.1,1026.9 999.1,1028.9 1001.3,1028.5C1003.6,1028.1 1005.4,1025.8 1007.2,1022.7C1009.0,1019.5 1009.8,1015.9 1011.1,1011.2C1012.4,1006.5 1013.2,1003.9 1014.4,996.5C1015.6,989.2 1016.2,980.4 1017.7,970.4C1019.1,960.4 1020.8,950.7 1022.6,941.0C1024.3,931.3 1025.7,924.8 1027.4,916.5C1029.2,908.3 1030.6,901.2 1032.3,895.3C1034.1,889.4 1035.5,886.5 1037.2,883.9C1039.0,881.2 1040.4,880.0 1042.1,880.6C1043.9,881.2 1045.3,883.6 1047.0,887.1C1048.8,890.7 1050.2,894.0 1051.9,900.2C1053.7,906.4 1055.1,912.0 1056.8,921.4C1058.6,930.8 1060.0,941.3 1061.7,952.4C1063.5,963.6 1064.9,974.7 1066.6,983.5C1068.4,992.3 1069.5,995.6 1071.5,1001.4C1073.6,1007.3 1075.7,1013.9 1078.1,1016.1C1080.4,1018.3 1082.2,1015.0 1084.6,1013.5C1086.9,1012.0 1088.8,1010.7 1091.1,1008.0C1093.5,1005.2 1095.3,1000.8 1097.7,998.2C1100.0,995.5 1101.5,994.3 1104.2,993.3C1106.8,992.2 1109.7,992.0 1112.3,992.3C1115.0,992.6 1116.5,993.5 1118.9,994.9C1121.2,996.2 1123.1,997.4 1125.4,999.8C1127.8,1002.1 1129.6,1004.4 1131.9,1008.0C1134.3,1011.5 1135.8,1014.7 1138.5,1019.4C1141.1,1024.1 1144.0,1028.2 1146.6,1034.1C1149.3,1040.0 1151.1,1046.5 1153.2,1052.0C1155.2,1057.6 1156.0,1060.1 1158.1,1065.1C1160.1,1070.1 1162.2,1075.1 1164.6,1079.8C1166.9,1084.5 1168.2,1086.5 1171.1,1091.2C1174.1,1095.9 1179.2,1103.3 1180.9,1105.9L1180.9,1271.0C1179.2,1271.6 1174.6,1271.9 1171.1,1274.3C1167.6,1276.6 1164.3,1280.6 1161.3,1284.1C1158.4,1287.6 1157.1,1289.8 1154.8,1293.9C1152.4,1298.0 1150.3,1303.4 1148.3,1306.9C1146.2,1310.5 1145.4,1307.6 1143.4,1313.5C1141.3,1319.3 1138.9,1332.5 1136.8,1339.6C1134.8,1346.6 1134.0,1348.5 1131.9,1352.7C1129.9,1356.8 1131.9,1360.7 1125.4,1362.4C1118.9,1364.2 1102.8,1363.9 1096.0,1362.4C1089.3,1361.0 1090.2,1357.8 1087.9,1354.3C1085.5,1350.8 1085.0,1347.3 1083.0,1342.9C1080.9,1338.4 1078.8,1335.1 1076.4,1329.8C1074.1,1324.5 1072.8,1318.8 1069.9,1313.5C1067.0,1308.2 1063.6,1303.9 1060.1,1300.4C1056.6,1296.9 1053.8,1296.8 1050.3,1293.9C1046.8,1290.9 1043.4,1287.0 1040.5,1284.1C1037.6,1281.1 1036.6,1281.1 1034.0,1277.6C1031.3,1274.0 1028.8,1269.2 1025.8,1264.5C1022.9,1259.8 1020.3,1256.1 1017.7,1251.4C1015.0,1246.7 1013.8,1243.1 1011.1,1238.4C1008.5,1233.7 1005.9,1230.6 1003.0,1225.3C1000.0,1220.0 997.4,1214.3 994.8,1209.0C992.2,1203.7 990.1,1200.3 988.3,1195.9C986.4,1191.5 986.4,1186.0 984.3,1184.5C982.3,1183.0 979.7,1185.1 976.8,1187.8C974.0,1190.4 971.3,1194.8 968.7,1199.2C966.0,1203.6 965.1,1207.5 962.1,1212.2C959.2,1216.9 955.9,1222.4 952.3,1225.3C948.8,1228.2 946.7,1228.6 942.6,1228.6C938.4,1228.6 933.6,1225.3 929.5,1225.3C925.4,1225.3 923.2,1225.3 919.7,1228.6C916.2,1231.8 913.4,1239.2 909.9,1243.3C906.4,1247.4 902.7,1248.8 900.1,1251.4C897.5,1254.1 897.6,1254.4 895.2,1258.0C892.9,1261.5 890.3,1266.3 887.0,1271.0C883.8,1275.7 880.8,1280.3 877.2,1284.1C873.7,1287.9 871.0,1288.7 867.4,1292.2C863.9,1295.8 861.3,1300.4 857.7,1303.7C854.0,1306.9 851.6,1308.4 847.3,1310.2C843.1,1312.0 839.0,1311.4 834.3,1313.5C829.6,1315.5 825.9,1319.3 821.2,1321.6C816.5,1324.0 812.9,1324.8 808.2,1326.5C803.5,1328.3 798.6,1329.4 795.1,1331.4C791.6,1333.5 790.9,1337.1 788.6,1338.0C786.2,1338.8 785.6,1337.8 782.0,1336.3C778.5,1334.9 773.7,1331.6 769.0,1329.8C764.3,1328.0 760.6,1326.8 755.9,1326.5C751.2,1326.2 747.6,1327.9 742.9,1328.2C738.2,1328.5 733.9,1329.3 729.8,1328.2C725.7,1327.0 723.5,1324.6 720.0,1321.6C716.5,1318.7 713.1,1314.8 710.2,1311.8C707.3,1308.9 706.0,1308.5 703.7,1305.3C701.3,1302.1 699.5,1297.7 697.1,1293.9C694.8,1290.1 693.0,1286.4 690.6,1284.1C688.3,1281.7 686.7,1280.8 684.1,1280.8C681.4,1280.8 678.9,1285.3 675.9,1284.1C673.0,1282.9 671.0,1277.8 667.8,1274.3C664.5,1270.8 661.2,1268.6 658.0,1264.5C654.7,1260.4 652.0,1257.9 649.8,1251.4C647.6,1245.0 647.9,1231.5 645.6,1228.6C643.2,1225.6 639.8,1231.0 636.7,1235.1C633.7,1239.2 631.2,1245.6 628.6,1251.4C625.9,1257.3 625.0,1261.9 622.0,1267.8C619.1,1273.6 615.8,1279.7 612.2,1284.1C608.7,1288.5 606.0,1288.7 602.4,1292.2C598.9,1295.8 594.6,1301.0 592.7,1303.7C590.7,1306.3 593.5,1303.7 591.8,1306.9C590.2,1310.2 586.6,1316.3 583.7,1321.6C580.7,1326.9 578.7,1335.4 575.5,1336.3C572.3,1337.2 569.2,1330.4 565.7,1326.5C562.2,1322.7 559.4,1318.9 555.9,1315.1C552.4,1311.3 549.1,1308.0 546.1,1305.3C543.2,1302.7 542.5,1297.2 539.6,1300.4C536.7,1303.6 533.3,1315.0 529.8,1323.3C526.3,1331.5 523.5,1340.2 520.0,1346.1C516.5,1352.0 519.0,1353.6 510.2,1355.9C501.4,1358.3 481.0,1359.2 471.0,1359.2C461.0,1359.2 460.0,1358.3 454.7,1355.9C449.4,1353.6 446.3,1350.2 441.6,1346.1C436.9,1342.0 432.7,1337.5 428.6,1333.1C424.5,1328.7 422.3,1324.9 418.8,1321.6C415.2,1318.4 412.5,1316.9 409.0,1315.1C405.5,1313.3 403.0,1313.0 399.2,1311.8C395.4,1310.7 391.6,1305.9 387.8,1308.6C383.9,1311.2 381.2,1322.6 378.0,1326.5C374.7,1330.5 372.4,1330.4 369.8,1330.4C367.2,1330.4 365.6,1329.0 363.3,1326.5C360.9,1324.1 359.1,1320.0 356.7,1316.7C354.4,1313.5 352.6,1309.3 350.2,1308.6C347.9,1307.9 347.2,1311.1 343.7,1312.8C340.1,1314.6 334.7,1316.2 330.6,1318.4C326.5,1320.5 324.0,1322.3 320.8,1324.9C317.6,1327.5 315.0,1328.1 312.7,1333.1C310.3,1338.1 309.2,1348.0 307.8,1352.7C306.3,1357.4 318.0,1358.0 304.5,1359.2C291.0,1360.4 247.1,1360.5 232.7,1359.2C218.3,1357.9 227.6,1354.5 224.5,1352.0C221.4,1349.5 217.1,1346.6 215.5,1345.5Z" fill="#0000ff" fill-opacity="0.2" clip-path="url(#clipb)"/>
<path d="M215.5,1300.4C217.1,1298.4 220.8,1292.8 224.5,1289.0C228.2,1285.2 231.5,1281.5 235.9,1279.2C240.3,1276.8 243.7,1275.9 249.0,1275.9C254.3,1275.9 260.3,1280.4 265.3,1279.2C270.3,1278.0 273.2,1272.0 276.7,1269.4C280.3,1266.7 281.7,1265.1 284.9,1264.5C288.1,1263.9 291.2,1267.9 294.7,1266.1C298.2,1264.4 301.0,1259.7 304.5,1254.7C308.0,1249.7 310.8,1243.1 314.3,1238.4C317.8,1233.7 320.3,1231.2 324.1,1228.6C327.9,1225.9 332.0,1224.0 335.5,1223.7C339.0,1223.4 340.4,1225.8 343.7,1226.9C346.9,1228.1 349.9,1229.2 353.5,1230.2C357.0,1231.2 359.7,1231.3 363.3,1232.5C366.8,1233.7 369.5,1235.1 373.1,1236.7C376.6,1238.4 379.3,1239.6 382.9,1241.6C386.4,1243.7 389.1,1245.8 392.7,1248.2C396.2,1250.5 398.9,1252.5 402.4,1254.7C406.0,1256.9 408.7,1258.9 412.2,1260.2C415.8,1261.6 418.5,1262.0 422.0,1262.2C425.6,1262.4 428.6,1261.6 431.8,1261.2C435.1,1260.9 437.1,1259.8 440.0,1260.2C442.9,1260.7 444.3,1263.0 448.2,1263.8C452.0,1264.7 457.1,1264.6 461.2,1265.1C465.3,1265.7 466.9,1266.0 471.0,1266.8C475.1,1267.6 480.0,1269.2 484.1,1269.7C488.2,1270.2 489.8,1269.6 493.9,1269.4C498.0,1269.2 504.0,1270.5 506.9,1268.4C509.9,1266.4 508.4,1261.1 510.2,1258.0C512.0,1254.8 514.4,1252.5 516.7,1250.8C519.1,1249.0 520.0,1248.9 523.3,1248.2C526.5,1247.4 532.0,1250.6 534.7,1246.5C537.3,1242.4 536.5,1232.1 538.0,1225.3C539.4,1218.5 540.8,1214.3 542.9,1209.0C544.9,1203.7 547.0,1200.6 549.4,1195.9C551.7,1191.2 553.9,1186.4 555.9,1182.9C558.0,1179.3 558.8,1178.1 560.8,1176.3C562.9,1174.6 565.3,1173.4 567.3,1173.1C569.4,1172.8 570.2,1175.9 572.2,1174.7C574.3,1173.5 576.4,1169.5 578.8,1166.5C581.1,1163.6 583.2,1160.3 585.3,1158.4C587.4,1156.4 588.9,1156.2 590.2,1155.8C591.5,1155.3 591.0,1154.7 592.7,1156.1C594.3,1157.4 596.8,1160.5 599.2,1163.3C601.5,1166.0 603.4,1168.5 605.7,1171.4C608.1,1174.4 609.9,1176.4 612.2,1179.6C614.6,1182.8 616.4,1186.7 618.8,1189.4C621.1,1192.0 623.0,1192.5 625.3,1194.3C627.7,1196.0 629.8,1197.4 631.8,1199.2C633.9,1200.9 634.7,1204.5 636.7,1204.1C638.8,1203.7 641.2,1196.9 643.3,1196.9C645.3,1196.9 646.1,1200.4 648.2,1204.1C650.2,1207.7 652.3,1212.7 654.7,1217.1C657.0,1221.6 658.3,1226.2 661.2,1228.6C664.2,1230.9 667.5,1230.2 671.0,1230.2C674.5,1230.2 677.3,1229.3 680.8,1228.6C684.3,1227.8 687.1,1226.0 690.6,1226.0C694.1,1226.0 697.5,1227.2 700.4,1228.6C703.3,1229.9 704.6,1230.8 706.9,1233.5C709.3,1236.1 711.1,1239.7 713.5,1243.3C715.8,1246.8 717.6,1249.2 720.0,1253.1C722.4,1256.9 724.2,1261.6 726.5,1264.5C728.9,1267.4 730.1,1267.7 733.1,1269.4C736.0,1271.0 738.7,1272.6 742.9,1273.6C747.0,1274.6 751.2,1274.6 755.9,1274.9C760.6,1275.2 765.5,1275.5 769.0,1275.3C772.5,1275.0 773.2,1274.7 775.5,1273.6C777.9,1272.6 779.7,1270.3 782.0,1269.4C784.4,1268.4 786.5,1269.9 788.6,1268.4C790.6,1266.9 791.7,1264.3 793.5,1261.2C795.2,1258.2 795.7,1255.2 798.4,1251.4C801.0,1247.6 804.6,1243.8 808.2,1240.0C811.7,1236.2 814.4,1233.7 818.0,1230.2C821.5,1226.7 824.2,1223.6 827.8,1220.4C831.3,1217.2 834.0,1214.9 837.6,1212.2C841.1,1209.6 844.4,1208.9 847.3,1205.7C850.3,1202.5 851.5,1199.0 853.9,1194.3C856.2,1189.6 858.1,1184.6 860.4,1179.6C862.8,1174.6 864.6,1170.9 866.9,1166.5C869.3,1162.1 871.1,1159.8 873.5,1155.1C875.8,1150.4 877.6,1145.4 880.0,1140.4C882.4,1135.4 884.2,1131.8 886.5,1127.3C888.9,1122.9 890.7,1119.7 893.1,1115.9C895.4,1112.1 897.2,1109.1 899.6,1106.1C901.9,1103.2 903.8,1101.4 906.1,1099.6C908.5,1097.8 910.6,1097.8 912.7,1096.3C914.7,1094.9 916.0,1094.4 917.6,1091.4C919.1,1088.5 919.8,1083.8 921.3,1080.0C922.9,1076.2 924.5,1072.1 926.2,1070.2C928.0,1068.3 929.1,1068.8 931.1,1069.6C933.2,1070.3 935.0,1072.9 937.7,1074.4C940.3,1076.0 942.6,1076.2 945.8,1078.4C949.0,1080.5 952.1,1083.6 955.6,1086.5C959.1,1089.5 962.2,1092.9 965.4,1094.7C968.6,1096.5 970.9,1096.3 973.6,1096.3C976.2,1096.3 977.8,1094.1 980.1,1094.7C982.5,1095.3 984.3,1096.7 986.6,1099.6C989.0,1102.5 990.8,1106.6 993.2,1111.0C995.5,1115.4 997.6,1121.0 999.7,1124.1C1001.8,1127.1 1002.5,1127.7 1004.6,1128.0C1006.6,1128.3 1008.8,1128.5 1011.1,1125.7C1013.5,1123.0 1015.3,1117.6 1017.7,1112.7C1020.0,1107.7 1021.8,1103.0 1024.2,1098.0C1026.5,1093.0 1028.4,1088.1 1030.7,1084.9C1033.1,1081.7 1034.9,1080.6 1037.2,1080.0C1039.6,1079.4 1041.4,1079.6 1043.8,1081.6C1046.1,1083.7 1048.0,1086.7 1050.3,1091.4C1052.7,1096.1 1054.8,1101.3 1056.8,1107.8C1058.9,1114.2 1060.0,1120.9 1061.7,1127.3C1063.5,1133.8 1064.9,1138.1 1066.6,1143.7C1068.4,1149.3 1069.8,1153.1 1071.5,1158.4C1073.3,1163.7 1074.7,1169.4 1076.4,1173.1C1078.2,1176.8 1079.0,1177.6 1081.3,1178.9C1083.7,1180.3 1086.3,1180.0 1089.5,1180.6C1092.7,1181.2 1095.8,1181.7 1099.3,1182.2C1102.8,1182.7 1105.6,1183.1 1109.1,1183.5C1112.6,1183.9 1115.4,1184.6 1118.9,1184.5C1122.4,1184.4 1125.7,1184.0 1128.7,1182.9C1131.6,1181.7 1132.9,1180.0 1135.2,1178.0C1137.6,1175.9 1139.4,1173.0 1141.7,1171.4C1144.1,1169.8 1145.9,1169.1 1148.3,1169.1C1150.6,1169.1 1152.4,1170.1 1154.8,1171.4C1157.1,1172.7 1159.0,1174.7 1161.3,1176.3C1163.7,1178.0 1165.5,1179.1 1167.9,1180.6C1170.2,1182.0 1172.0,1182.8 1174.4,1184.5C1176.7,1186.2 1179.7,1189.0 1180.9,1190.0" fill="none" stroke="#0000ff" stroke-width="2.1" stroke-linejoin="round" clip-path="url(#clipb)"/>
<path d="M215.5,1241.6C216.8,1239.3 219.8,1236.1 222.9,1228.6C225.9,1221.0 230.0,1204.2 232.7,1199.8C235.3,1195.4 235.8,1200.7 237.6,1204.1C239.3,1207.5 240.4,1214.1 242.4,1218.8C244.5,1223.5 246.3,1229.0 249.0,1230.2C251.6,1231.4 254.2,1228.5 257.1,1225.3C260.1,1222.1 262.1,1217.5 265.3,1212.2C268.5,1207.0 271.6,1200.3 275.1,1195.9C278.6,1191.5 282.3,1186.6 284.9,1187.8C287.5,1188.9 288.0,1195.1 289.8,1202.4C291.6,1209.8 292.6,1220.3 294.7,1228.6C296.8,1236.8 298.9,1242.0 301.2,1248.2C303.6,1254.3 305.7,1261.1 307.8,1262.9C309.8,1264.6 310.3,1261.8 312.7,1258.0C315.0,1254.1 317.6,1247.5 320.8,1241.6C324.0,1235.8 326.8,1230.6 330.6,1225.3C334.4,1220.0 339.7,1219.9 342.0,1212.2C344.4,1204.6 342.5,1195.8 343.7,1182.9C344.8,1169.9 346.8,1148.9 348.6,1140.4C350.3,1131.9 350.8,1137.0 353.5,1135.5C356.1,1134.0 360.3,1133.1 363.3,1132.2C366.2,1131.4 367.2,1131.2 369.8,1130.6C372.4,1130.0 375.6,1131.3 378.0,1129.0C380.3,1126.6 380.8,1121.4 382.9,1117.6C384.9,1113.7 387.3,1109.2 389.4,1107.8C391.4,1106.3 392.5,1107.0 394.3,1109.4C396.0,1111.7 397.4,1115.2 399.2,1120.8C400.9,1126.4 402.0,1133.4 404.1,1140.4C406.1,1147.5 408.6,1154.7 410.6,1160.0C412.7,1165.3 414.2,1170.4 415.5,1169.8C416.9,1169.2 416.9,1164.4 418.1,1156.7C419.3,1149.1 420.2,1136.8 422.0,1127.3C423.9,1117.9 425.9,1109.5 428.6,1104.5C431.2,1099.5 434.4,1104.0 436.7,1099.6C439.1,1095.2 440.0,1084.4 441.6,1080.0C443.2,1075.6 444.1,1073.9 445.6,1075.1C447.0,1076.3 448.2,1082.7 449.8,1086.5C451.4,1090.4 452.6,1095.4 454.7,1096.3C456.8,1097.2 458.9,1093.2 461.2,1091.4C463.6,1089.7 465.4,1087.9 467.8,1086.5C470.1,1085.2 471.9,1083.9 474.3,1083.9C476.6,1083.9 478.5,1084.6 480.8,1086.5C483.2,1088.5 485.0,1091.5 487.3,1094.7C489.7,1097.9 492.1,1101.3 493.9,1104.5C495.6,1107.7 496.0,1114.1 497.1,1112.7C498.3,1111.2 498.9,1100.9 500.4,1096.3C501.9,1091.8 503.5,1088.4 505.3,1087.5C507.1,1086.6 508.4,1089.5 510.2,1091.4C512.0,1093.3 513.0,1095.6 515.1,1098.0C517.2,1100.3 519.0,1101.6 521.6,1104.5C524.3,1107.4 527.2,1110.8 529.8,1114.3C532.4,1117.8 534.3,1118.8 536.3,1124.1C538.4,1129.4 538.3,1139.9 541.2,1143.7C544.2,1147.5 549.4,1145.9 552.7,1145.3C555.9,1144.7 557.9,1141.9 559.2,1140.4C560.5,1138.9 558.7,1141.3 560.0,1137.1C561.3,1133.0 564.2,1125.2 566.5,1117.6C568.9,1109.9 570.7,1101.2 573.1,1094.7C575.4,1088.2 577.5,1081.6 579.6,1081.6C581.6,1081.6 582.7,1088.8 584.5,1094.7C586.3,1100.6 587.3,1107.2 589.4,1114.3C591.4,1121.3 593.6,1128.6 595.9,1133.9C598.3,1139.2 600.1,1144.3 602.4,1143.7C604.8,1143.1 606.6,1137.1 609.0,1130.6C611.3,1124.1 613.5,1114.8 615.5,1107.8C617.6,1100.7 618.6,1099.1 620.4,1091.4C622.2,1083.8 623.8,1071.8 625.3,1065.3C626.8,1058.8 627.1,1055.8 628.6,1055.5C630.0,1055.2 631.7,1061.6 633.5,1063.7C635.2,1065.7 636.3,1066.1 638.4,1066.9C640.4,1067.8 642.5,1065.9 644.9,1068.6C647.2,1071.2 649.1,1079.6 651.4,1081.6C653.8,1083.7 655.6,1080.9 658.0,1080.0C660.3,1079.1 661.8,1077.9 664.5,1076.7C667.1,1075.6 670.0,1077.0 672.7,1073.5C675.3,1069.9 677.1,1060.7 679.2,1057.1C681.2,1053.6 682.0,1053.9 684.1,1053.9C686.1,1053.9 688.6,1053.9 690.6,1057.1C692.7,1060.4 693.7,1067.4 695.5,1071.8C697.3,1076.2 698.6,1077.8 700.4,1081.6C702.2,1085.5 703.5,1088.9 705.3,1093.1C707.1,1097.2 708.7,1104.2 710.2,1104.5C711.7,1104.8 712.3,1097.3 713.5,1094.7C714.6,1092.0 715.6,1088.0 716.7,1089.8C717.9,1091.6 718.5,1098.9 720.0,1104.5C721.5,1110.1 723.1,1117.0 724.9,1120.8C726.7,1124.6 728.0,1122.8 729.8,1125.7C731.6,1128.7 732.6,1131.6 734.7,1137.1C736.8,1142.7 738.9,1150.6 741.2,1156.7C743.6,1162.9 745.7,1170.5 747.8,1171.4C749.8,1172.3 750.6,1166.0 752.7,1161.6C754.7,1157.2 756.8,1151.9 759.2,1146.9C761.5,1141.9 763.4,1139.2 765.7,1133.9C768.1,1128.6 769.9,1122.5 772.2,1117.6C774.6,1112.6 776.1,1108.8 778.8,1106.1C781.4,1103.5 784.3,1104.0 786.9,1102.9C789.6,1101.7 790.8,1101.1 793.5,1099.6C796.1,1098.1 799.3,1093.2 801.6,1094.7C804.0,1096.2 804.8,1101.9 806.5,1107.8C808.3,1113.6 809.7,1121.5 811.4,1127.3C813.2,1133.2 814.6,1138.1 816.3,1140.4C818.1,1142.8 819.5,1142.2 821.2,1140.4C823.0,1138.6 824.3,1136.2 826.1,1130.6C828.0,1125.0 829.1,1112.9 831.5,1109.4C834.0,1105.9 836.8,1114.3 839.7,1111.0C842.6,1107.8 844.6,1098.8 847.9,1091.4C851.1,1084.1 854.1,1077.3 857.7,1070.2C861.2,1063.2 863.9,1057.5 867.4,1052.2C871.0,1047.0 874.6,1043.3 877.2,1040.8C879.9,1038.3 880.1,1037.9 882.1,1038.5C884.2,1039.1 886.6,1040.1 888.7,1044.1C890.7,1048.0 892.1,1053.1 893.6,1060.4C895.0,1067.8 895.1,1079.6 896.8,1084.9C898.6,1090.2 900.9,1091.0 903.4,1089.8C905.8,1088.6 907.9,1080.7 910.6,1078.4C913.2,1076.0 915.8,1075.6 918.1,1076.7C920.3,1077.9 921.2,1079.9 923.0,1084.9C924.7,1089.9 925.8,1098.0 927.9,1104.5C929.9,1111.0 932.3,1117.0 934.4,1120.8C936.4,1124.6 937.8,1125.7 939.3,1125.7C940.8,1125.7 941.1,1117.0 942.6,1120.8C944.0,1124.6 945.4,1138.1 947.4,1146.9C949.5,1155.8 951.6,1164.2 954.0,1169.8C956.3,1175.4 958.2,1174.7 960.5,1178.0C962.9,1181.2 965.0,1188.3 967.0,1187.8C969.1,1187.2 970.4,1177.9 971.9,1174.7C973.5,1171.5 974.4,1168.6 975.9,1169.8C977.3,1171.0 978.6,1177.6 980.1,1181.2C981.6,1184.9 983.1,1189.7 984.3,1190.0C985.6,1190.3 986.3,1189.4 987.3,1182.9C988.3,1176.3 988.8,1163.5 989.9,1153.5C991.0,1143.5 991.4,1134.4 993.2,1127.3C994.9,1120.3 997.6,1117.8 999.7,1114.3C1001.8,1110.8 1002.8,1108.0 1004.6,1107.8C1006.4,1107.5 1007.7,1109.1 1009.5,1112.7C1011.3,1116.2 1012.6,1121.2 1014.4,1127.3C1016.2,1133.5 1017.5,1141.4 1019.3,1146.9C1021.0,1152.5 1022.1,1157.5 1024.2,1158.4C1026.2,1159.2 1028.4,1154.5 1030.7,1151.8C1033.1,1149.2 1034.3,1146.0 1037.2,1143.7C1040.2,1141.3 1043.5,1140.8 1047.0,1138.8C1050.6,1136.7 1053.9,1135.5 1056.8,1132.2C1059.8,1129.0 1061.0,1124.9 1063.4,1120.8C1065.7,1116.7 1067.3,1113.2 1069.9,1109.4C1072.5,1105.6 1075.1,1100.8 1078.1,1099.6C1081.0,1098.4 1083.6,1102.0 1086.2,1102.9C1088.9,1103.7 1090.4,1104.8 1092.8,1104.5C1095.1,1104.2 1097.2,1098.9 1099.3,1101.2C1101.3,1103.6 1102.1,1112.8 1104.2,1117.6C1106.2,1122.3 1108.4,1127.9 1110.7,1127.3C1113.1,1126.8 1114.6,1118.1 1117.2,1114.3C1119.9,1110.5 1122.2,1107.9 1125.4,1106.1C1128.6,1104.4 1132.0,1104.5 1135.2,1104.5C1138.4,1104.5 1140.7,1107.3 1143.4,1106.1C1146.0,1104.9 1147.8,1102.4 1149.9,1098.0C1152.0,1093.6 1153.0,1087.5 1154.8,1081.6C1156.6,1075.8 1157.6,1070.7 1159.7,1065.3C1161.8,1059.9 1164.2,1053.6 1166.2,1051.6C1168.3,1049.5 1169.4,1051.7 1171.1,1053.9C1172.9,1056.1 1174.3,1059.9 1176.0,1063.7C1177.8,1067.5 1180.0,1073.0 1180.9,1075.1L1180.9,1228.6C1179.7,1226.5 1176.7,1220.1 1174.4,1217.1C1172.0,1214.2 1170.2,1210.8 1167.9,1212.2C1165.5,1213.7 1163.7,1220.0 1161.3,1225.3C1159.0,1230.6 1157.1,1235.8 1154.8,1241.6C1152.4,1247.5 1151.2,1253.6 1148.3,1258.0C1145.3,1262.4 1142.0,1264.9 1138.5,1266.1C1134.9,1267.3 1132.2,1265.4 1128.7,1264.5C1125.1,1263.6 1121.8,1260.6 1118.9,1261.2C1115.9,1261.8 1114.7,1265.4 1112.3,1267.8C1110.0,1270.1 1107.9,1276.0 1105.8,1274.3C1103.8,1272.5 1102.7,1260.0 1100.9,1258.0C1099.2,1255.9 1098.7,1262.3 1096.0,1262.9C1093.4,1263.4 1089.5,1260.9 1086.2,1261.2C1083.0,1261.5 1080.4,1261.6 1078.1,1264.5C1075.7,1267.4 1074.9,1273.4 1073.2,1277.6C1071.4,1281.7 1070.3,1287.9 1068.3,1287.3C1066.2,1286.8 1063.8,1276.0 1061.7,1274.3C1059.7,1272.5 1058.9,1278.4 1056.8,1277.6C1054.8,1276.7 1053.2,1271.2 1050.3,1269.4C1047.4,1267.6 1043.4,1266.0 1040.5,1267.8C1037.6,1269.5 1036.3,1277.4 1034.0,1279.2C1031.6,1280.9 1029.8,1279.0 1027.4,1277.6C1025.1,1276.1 1023.9,1273.4 1020.9,1271.0C1018.0,1268.7 1014.6,1264.5 1011.1,1264.5C1007.6,1264.5 1004.9,1268.7 1001.3,1271.0C997.8,1273.4 994.6,1274.3 991.5,1277.6C988.5,1280.8 987.3,1288.4 984.3,1289.0C981.4,1289.6 978.6,1282.9 975.2,1280.8C971.8,1278.8 968.9,1279.6 965.4,1277.6C961.9,1275.5 958.6,1272.3 955.6,1269.4C952.7,1266.4 951.4,1264.5 949.1,1261.2C946.7,1258.0 944.9,1252.9 942.6,1251.4C940.2,1250.0 939.0,1251.3 936.0,1253.1C933.1,1254.8 929.2,1258.6 926.2,1261.2C923.3,1263.9 922.0,1267.5 919.7,1267.8C917.3,1268.0 915.5,1264.6 913.2,1262.9C910.8,1261.1 909.0,1260.0 906.6,1258.0C904.3,1255.9 903.1,1255.5 900.1,1251.4C897.1,1247.3 893.1,1240.4 889.8,1235.1C886.5,1229.8 884.3,1227.9 881.6,1222.0C879.0,1216.2 877.5,1207.7 875.1,1202.4C872.8,1197.2 871.2,1195.0 868.6,1192.7C865.9,1190.3 863.1,1187.6 860.4,1189.4C857.8,1191.2 856.8,1196.0 853.9,1202.4C850.9,1208.9 847.6,1218.3 844.1,1225.3C840.6,1232.4 837.8,1235.8 834.3,1241.6C830.8,1247.5 827.4,1253.3 824.5,1258.0C821.6,1262.7 820.0,1264.8 818.0,1267.8C815.9,1270.7 814.8,1274.6 813.1,1274.3C811.3,1274.0 810.2,1269.1 808.2,1266.1C806.1,1263.2 804.6,1261.2 801.6,1258.0C798.7,1254.7 795.1,1251.7 791.8,1248.2C788.6,1244.6 786.3,1241.9 783.7,1238.4C781.0,1234.8 779.5,1229.2 777.1,1228.6C774.8,1228.0 773.3,1231.6 770.6,1235.1C768.0,1238.6 765.7,1244.0 762.4,1248.2C759.2,1252.3 755.9,1254.4 752.7,1258.0C749.4,1261.5 747.1,1267.2 744.5,1267.8C741.8,1268.3 740.6,1264.2 738.0,1261.2C735.3,1258.3 732.4,1254.4 729.8,1251.4C727.2,1248.5 725.6,1246.7 723.3,1244.9C720.9,1243.1 719.1,1239.3 716.7,1241.6C714.4,1244.0 712.0,1254.4 710.2,1258.0C708.4,1261.5 708.7,1263.0 706.9,1261.2C705.2,1259.5 702.8,1251.7 700.4,1248.2C698.1,1244.6 696.2,1242.2 693.9,1241.6C691.5,1241.0 690.0,1241.4 687.3,1244.9C684.7,1248.4 681.5,1255.3 679.2,1261.2C676.8,1267.1 676.9,1275.8 674.3,1277.6C671.6,1279.3 668.0,1274.5 664.5,1271.0C661.0,1267.5 658.1,1265.3 654.7,1258.0C651.3,1250.6 648.8,1237.3 645.6,1230.2C642.3,1223.2 639.8,1222.6 636.7,1218.8C633.7,1215.0 631.5,1208.4 628.6,1209.0C625.6,1209.6 623.3,1216.2 620.4,1222.0C617.5,1227.9 615.5,1234.0 612.2,1241.6C609.0,1249.3 606.0,1261.0 602.4,1264.5C598.9,1268.0 596.2,1261.5 592.7,1261.2C589.1,1260.9 586.4,1261.1 582.9,1262.9C579.3,1264.6 577.2,1269.3 573.1,1271.0C568.9,1272.8 562.5,1272.1 560.0,1272.7C557.5,1273.2 561.1,1272.8 559.2,1274.3C557.3,1275.8 553.5,1280.8 549.4,1280.8C545.3,1280.8 541.0,1276.6 536.3,1274.3C531.6,1271.9 527.4,1270.7 523.3,1267.8C519.2,1264.8 517.0,1260.0 513.5,1258.0C509.9,1255.9 507.2,1255.4 503.7,1256.3C500.1,1257.2 498.0,1262.6 493.9,1262.9C489.8,1263.2 484.9,1258.3 480.8,1258.0C476.7,1257.7 474.5,1259.5 471.0,1261.2C467.5,1263.0 464.2,1264.2 461.2,1267.8C458.3,1271.3 457.0,1278.8 454.7,1280.8C452.3,1282.9 450.5,1280.4 448.2,1279.2C445.8,1278.0 444.6,1274.9 441.6,1274.3C438.7,1273.7 435.1,1273.6 431.8,1275.9C428.6,1278.3 426.3,1281.8 423.7,1287.3C421.0,1292.9 419.8,1302.5 417.1,1306.9C414.5,1311.3 412.2,1311.2 409.0,1311.8C405.7,1312.4 403.0,1311.1 399.2,1310.2C395.4,1309.3 391.0,1304.6 387.8,1306.9C384.5,1309.3 383.3,1318.6 381.2,1323.3C379.2,1328.0 379.0,1332.5 376.3,1333.1C373.7,1333.6 369.5,1328.6 366.5,1326.5C363.6,1324.5 362.6,1324.0 360.0,1321.6C357.4,1319.3 354.8,1314.9 351.8,1313.5C348.9,1312.0 346.9,1312.9 343.7,1313.5C340.4,1314.1 337.4,1315.3 333.9,1316.7C330.4,1318.2 327.6,1319.9 324.1,1321.6C320.6,1323.4 317.8,1325.4 314.3,1326.5C310.8,1327.7 308.0,1327.6 304.5,1328.2C301.0,1328.8 297.3,1327.2 294.7,1329.8C292.0,1332.4 291.6,1338.2 289.8,1342.9C288.0,1347.6 287.0,1355.9 284.9,1355.9C282.8,1355.9 281.0,1348.1 278.4,1342.9C275.7,1337.6 273.4,1330.9 270.2,1326.5C267.0,1322.1 264.2,1318.4 260.4,1318.4C256.6,1318.4 254.6,1323.9 249.0,1326.5C243.4,1329.2 235.4,1330.1 229.4,1333.1C223.4,1336.0 218.0,1341.1 215.5,1342.9Z" fill="#ff0000" fill-opacity="0.2" clip-path="url(#clipb)"/>
<path d="M215.5,1297.8C216.8,1295.9 220.1,1292.5 222.9,1287.3C225.7,1282.2 228.7,1273.9 231.0,1269.4C233.4,1264.9 234.2,1262.5 235.9,1262.2C237.7,1261.9 238.8,1265.0 240.8,1267.8C242.9,1270.5 245.3,1275.8 247.3,1277.6C249.4,1279.3 250.2,1278.4 252.2,1277.6C254.3,1276.7 256.7,1275.3 258.8,1272.7C260.8,1270.0 261.6,1264.9 263.7,1262.9C265.7,1260.8 267.9,1260.8 270.2,1261.2C272.6,1261.6 274.7,1263.7 276.7,1265.1C278.8,1266.6 279.6,1268.8 281.6,1269.4C283.7,1270.0 286.1,1266.9 288.2,1268.4C290.2,1269.9 291.3,1274.1 293.1,1277.6C294.8,1281.0 296.0,1283.9 298.0,1287.3C299.9,1290.8 301.8,1294.7 303.8,1296.5C305.9,1298.3 307.2,1298.5 309.4,1297.1C311.6,1295.8 313.6,1292.2 315.9,1289.0C318.3,1285.7 320.1,1281.8 322.4,1279.2C324.8,1276.5 326.6,1275.5 329.0,1274.3C331.3,1273.1 333.2,1273.8 335.5,1272.7C337.9,1271.5 340.6,1272.2 342.0,1267.8C343.5,1263.3 342.8,1254.6 343.7,1248.2C344.6,1241.7 345.6,1236.5 346.9,1231.8C348.2,1227.1 349.2,1223.9 350.9,1222.0C352.5,1220.2 354.1,1220.8 356.1,1221.4C358.0,1222.0 359.8,1224.3 361.6,1225.3C363.5,1226.3 364.8,1225.5 366.5,1226.9C368.3,1228.4 369.7,1232.0 371.4,1233.5C373.2,1234.9 374.6,1236.6 376.3,1235.1C378.1,1233.6 379.5,1229.1 381.2,1225.3C383.0,1221.5 384.4,1217.3 386.1,1213.9C387.9,1210.5 389.3,1207.5 391.0,1206.4C392.8,1205.2 394.2,1205.7 395.9,1207.3C397.7,1209.0 399.1,1211.7 400.8,1215.5C402.6,1219.3 404.0,1224.6 405.7,1228.6C407.5,1232.6 408.7,1235.8 410.6,1237.7C412.5,1239.6 414.6,1241.3 416.2,1239.0C417.8,1236.8 418.1,1231.3 419.4,1225.3C420.8,1219.3 422.0,1211.6 423.7,1205.7C425.3,1199.8 426.5,1196.2 428.6,1192.7C430.6,1189.1 432.8,1188.8 435.1,1186.1C437.5,1183.5 439.8,1179.8 441.6,1178.0C443.5,1176.1 443.8,1174.2 445.6,1175.7C447.3,1177.1 449.2,1184.8 451.4,1186.1C453.7,1187.4 455.6,1184.0 458.0,1182.9C460.3,1181.7 462.1,1181.4 464.5,1179.6C466.8,1177.8 468.7,1175.1 471.0,1173.1C473.4,1171.0 475.5,1168.5 477.6,1168.2C479.6,1167.9 480.7,1169.7 482.4,1171.4C484.2,1173.2 485.6,1175.9 487.3,1178.0C489.1,1180.0 490.8,1180.9 492.2,1182.9C493.7,1184.8 494.3,1189.6 495.5,1188.7C496.7,1187.9 497.3,1181.3 498.8,1178.0C500.2,1174.7 502.2,1172.0 503.7,1170.4C505.1,1168.9 505.5,1168.7 506.9,1169.1C508.4,1169.6 509.8,1171.8 511.8,1173.1C513.9,1174.4 516.3,1174.6 518.4,1176.3C520.4,1178.1 521.8,1179.3 523.3,1182.9C524.7,1186.4 524.8,1193.0 526.5,1195.9C528.3,1198.9 531.0,1198.0 533.1,1199.2C535.1,1200.4 536.2,1199.8 538.0,1202.4C539.7,1205.1 540.8,1212.2 542.9,1213.9C544.9,1215.5 546.4,1212.5 549.4,1211.6C552.3,1210.7 557.3,1209.4 559.2,1209.0C561.1,1208.5 559.0,1211.9 560.0,1209.0C561.0,1206.0 562.8,1196.8 564.9,1192.7C567.0,1188.5 569.1,1189.8 571.4,1186.1C573.8,1182.5 575.9,1173.9 578.0,1172.4C580.0,1170.9 580.8,1174.9 582.9,1178.0C584.9,1181.0 587.0,1185.6 589.4,1189.4C591.7,1193.2 593.6,1196.2 595.9,1199.2C598.3,1202.1 600.4,1206.0 602.4,1205.7C604.5,1205.4 605.6,1201.7 607.3,1197.6C609.1,1193.4 610.5,1187.9 612.2,1182.9C614.0,1177.9 615.4,1175.7 617.1,1169.8C618.9,1163.9 620.2,1157.0 622.0,1150.2C623.9,1143.4 625.5,1134.3 627.6,1132.2C629.6,1130.2 631.2,1136.1 633.5,1138.8C635.7,1141.4 637.9,1145.2 640.0,1146.9C642.1,1148.7 643.1,1146.2 644.9,1148.6C646.7,1150.9 648.0,1156.5 649.8,1160.0C651.6,1163.5 652.6,1166.1 654.7,1168.2C656.8,1170.2 658.9,1171.1 661.2,1171.4C663.6,1171.7 665.7,1169.5 667.8,1169.8C669.8,1170.1 670.9,1173.6 672.7,1173.1C674.4,1172.5 675.8,1169.8 677.6,1166.5C679.3,1163.3 680.4,1158.0 682.4,1155.1C684.5,1152.2 686.9,1150.8 689.0,1150.2C691.0,1149.6 692.1,1149.5 693.9,1151.8C695.6,1154.2 697.0,1159.2 698.8,1163.3C700.5,1167.4 701.9,1170.3 703.7,1174.7C705.4,1179.1 706.8,1188.6 708.6,1187.8C710.3,1186.9 711.7,1173.6 713.5,1169.8C715.2,1166.0 716.9,1164.8 718.4,1166.5C719.8,1168.3 720.2,1175.5 721.6,1179.6C723.1,1183.7 725.1,1188.2 726.5,1189.4C728.0,1190.6 728.3,1184.4 729.8,1186.1C731.3,1187.9 732.6,1194.5 734.7,1199.2C736.8,1203.9 738.9,1208.4 741.2,1212.2C743.6,1216.1 745.7,1220.4 747.8,1220.4C749.8,1220.4 750.6,1215.5 752.7,1212.2C754.7,1209.0 756.8,1206.6 759.2,1202.4C761.5,1198.3 763.4,1193.8 765.7,1189.4C768.1,1185.0 769.9,1181.7 772.2,1178.0C774.6,1174.3 776.4,1169.7 778.8,1168.8C781.1,1167.9 783.0,1172.4 785.3,1173.1C787.7,1173.7 789.2,1172.1 791.8,1172.4C794.5,1172.7 797.6,1172.8 800.0,1174.7C802.4,1176.6 803.1,1179.0 804.9,1182.9C806.7,1186.7 808.0,1191.7 809.8,1195.9C811.6,1200.2 812.6,1204.6 814.7,1206.4C816.8,1208.1 819.2,1208.2 821.2,1205.7C823.3,1203.2 824.4,1197.6 826.1,1192.7C827.9,1187.7 829.3,1182.0 831.0,1178.0C832.8,1174.0 834.2,1171.9 835.9,1170.4C837.7,1169.0 839.1,1172.3 840.8,1169.8C842.6,1167.3 843.7,1162.0 845.7,1156.7C847.8,1151.4 849.9,1145.1 852.2,1140.4C854.6,1135.7 856.1,1133.6 858.8,1130.6C861.4,1127.7 864.0,1125.6 866.9,1124.1C869.9,1122.6 872.5,1122.2 875.1,1122.4C877.7,1122.7 879.6,1123.7 881.6,1125.7C883.7,1127.8 884.8,1131.8 886.5,1133.9C888.3,1135.9 890.0,1133.6 891.4,1137.1C892.9,1140.7 893.2,1146.7 894.7,1153.5C896.2,1160.2 897.5,1172.9 899.6,1174.7C901.6,1176.5 903.8,1164.4 906.1,1163.3C908.5,1162.1 910.3,1166.7 912.7,1168.2C915.0,1169.6 916.8,1170.5 919.2,1171.4C921.5,1172.3 923.4,1170.4 925.7,1173.1C928.1,1175.7 930.2,1183.8 932.2,1186.1C934.3,1188.5 935.4,1186.1 937.1,1186.1C938.9,1186.1 940.3,1182.0 942.0,1186.1C943.8,1190.2 945.2,1202.5 946.9,1209.0C948.7,1215.4 950.9,1219.8 951.8,1222.0C952.8,1224.3 951.1,1221.1 952.3,1221.4C953.6,1221.7 956.5,1221.5 958.9,1223.7C961.2,1225.8 963.4,1233.2 965.4,1233.5C967.5,1233.8 968.8,1227.2 970.3,1225.3C971.8,1223.4 972.1,1222.1 973.6,1223.0C975.0,1223.9 976.5,1227.0 978.5,1230.2C980.4,1233.4 982.6,1240.7 984.3,1241.0C986.1,1241.3 987.0,1236.4 988.3,1231.8C989.6,1227.3 990.1,1221.4 991.5,1215.5C993.0,1209.6 994.7,1203.6 996.4,1199.2C998.2,1194.8 999.6,1193.0 1001.3,1191.0C1003.1,1189.1 1004.5,1188.1 1006.2,1188.4C1008.0,1188.7 1009.4,1190.4 1011.1,1192.7C1012.9,1194.9 1014.3,1197.3 1016.0,1200.8C1017.8,1204.3 1019.2,1209.3 1020.9,1212.2C1022.7,1215.2 1024.1,1216.6 1025.8,1217.1C1027.6,1217.7 1028.7,1217.3 1030.7,1215.5C1032.8,1213.7 1034.9,1209.4 1037.2,1207.3C1039.6,1205.3 1041.4,1205.0 1043.8,1204.1C1046.1,1203.2 1047.7,1202.2 1050.3,1202.4C1053.0,1202.7 1055.8,1206.7 1058.5,1205.7C1061.1,1204.7 1062.9,1197.4 1065.0,1196.9C1067.1,1196.4 1068.1,1203.9 1069.9,1203.1C1071.7,1202.3 1073.0,1196.6 1074.8,1192.7C1076.6,1188.7 1077.6,1183.0 1079.7,1181.2C1081.8,1179.5 1083.6,1182.4 1086.2,1182.9C1088.9,1183.3 1092.0,1184.4 1094.4,1183.5C1096.7,1182.6 1097.7,1176.6 1099.3,1178.0C1100.9,1179.3 1101.6,1186.6 1103.2,1191.0C1104.8,1195.4 1106.5,1201.6 1108.4,1202.4C1110.4,1203.3 1112.1,1198.6 1114.0,1195.9C1115.9,1193.3 1116.8,1189.4 1118.9,1187.8C1120.9,1186.1 1122.8,1187.1 1125.4,1186.8C1128.1,1186.5 1130.9,1186.5 1133.6,1186.1C1136.2,1185.7 1137.8,1184.2 1140.1,1184.5C1142.5,1184.8 1144.6,1189.8 1146.6,1187.8C1148.7,1185.7 1149.8,1178.6 1151.5,1173.1C1153.3,1167.5 1154.7,1162.6 1156.4,1156.7C1158.2,1150.9 1159.6,1145.1 1161.3,1140.4C1163.1,1135.7 1164.8,1132.4 1166.2,1130.6C1167.7,1128.8 1168.0,1128.8 1169.5,1130.6C1171.0,1132.4 1172.3,1136.4 1174.4,1140.4C1176.4,1144.4 1179.7,1150.6 1180.9,1152.8" fill="none" stroke="#ff0000" stroke-width="2.1" stroke-linejoin="round" clip-path="url(#clipb)"/>
<path d="M215.5,2005.1C216.8,2003.9 220.4,2001.8 222.9,1998.6C225.4,1995.3 227.0,1990.7 229.4,1987.1C231.7,1983.6 233.6,1981.9 235.9,1979.0C238.3,1976.0 239.8,1973.2 242.4,1970.8C245.1,1968.5 248.0,1967.2 250.6,1965.9C253.3,1964.6 254.8,1963.3 257.1,1963.6C259.5,1963.9 261.3,1964.8 263.7,1967.6C266.0,1970.3 267.9,1974.0 270.2,1979.0C272.6,1984.0 274.1,1990.0 276.7,1995.3C279.4,2000.6 281.7,2004.8 284.9,2008.4C288.1,2011.9 291.2,2013.1 294.7,2014.9C298.2,2016.7 301.0,2017.3 304.5,2018.2C308.0,2019.0 311.6,2019.2 314.3,2019.8C316.9,2020.4 317.1,2022.0 319.2,2021.4C321.2,2020.8 323.7,2019.8 325.7,2016.5C327.8,2013.3 328.6,2007.6 330.6,2003.5C332.7,1999.4 334.5,1996.6 337.1,1993.7C339.8,1990.7 341.8,1989.2 345.3,1987.1C348.8,1985.1 352.9,1984.3 356.7,1982.2C360.6,1980.2 363.6,1977.2 366.5,1975.7C369.5,1974.2 370.4,1973.5 373.1,1974.1C375.7,1974.7 378.3,1976.6 381.2,1979.0C384.2,1981.3 386.2,1984.5 389.4,1987.1C392.6,1989.8 395.7,1992.2 399.2,1993.7C402.7,1995.1 405.5,1995.1 409.0,1995.3C412.5,1995.5 415.2,1995.5 418.8,1994.7C422.3,1993.8 425.0,1992.3 428.6,1990.4C432.1,1988.5 434.8,1987.1 438.4,1983.9C441.9,1980.6 444.6,1980.4 448.2,1972.4C451.7,1964.5 455.3,1949.2 458.0,1939.8C460.6,1930.4 461.1,1926.1 462.9,1920.2C464.6,1914.3 466.0,1910.7 467.8,1907.1C469.5,1903.6 470.9,1903.0 472.7,1900.6C474.4,1898.3 475.5,1898.2 477.6,1894.1C479.6,1890.0 481.7,1883.6 484.1,1877.8C486.4,1871.9 488.6,1866.4 490.6,1861.4C492.7,1856.4 493.7,1853.8 495.5,1850.0C497.3,1846.2 498.4,1843.1 500.4,1840.2C502.5,1837.3 504.3,1835.4 506.9,1833.7C509.6,1831.9 512.2,1831.4 515.1,1830.4C518.0,1829.4 520.6,1828.4 523.3,1828.1C525.9,1827.8 526.9,1827.5 529.8,1828.8C532.7,1830.1 536.1,1834.1 539.6,1835.3C543.1,1836.5 545.9,1836.2 549.4,1835.3C552.9,1834.4 557.3,1831.9 559.2,1830.4C561.1,1828.9 557.5,1827.4 560.0,1827.1C562.5,1826.8 568.7,1828.2 573.1,1828.8C577.5,1829.4 581.6,1832.8 584.5,1830.4C587.4,1828.1 587.6,1821.9 589.4,1815.7C591.2,1809.5 592.2,1802.6 594.3,1796.1C596.3,1789.7 598.2,1785.1 600.8,1779.8C603.5,1774.5 606.0,1767.9 609.0,1766.7C611.9,1765.6 614.8,1768.0 617.1,1773.3C619.5,1778.6 620.3,1787.9 622.0,1796.1C623.8,1804.4 624.9,1811.3 626.9,1819.0C629.0,1826.6 631.1,1832.1 633.5,1838.6C635.8,1845.0 637.6,1849.6 640.0,1854.9C642.4,1860.2 644.2,1862.7 646.5,1868.0C648.9,1873.2 650.4,1879.3 653.1,1884.3C655.7,1889.3 658.0,1892.8 661.2,1895.7C664.5,1898.7 667.8,1900.0 671.0,1900.6C674.3,1901.2 675.7,1899.6 679.2,1899.0C682.7,1898.4 686.2,1898.1 690.6,1897.3C695.0,1896.6 699.6,1896.2 703.7,1894.7C707.8,1893.3 710.8,1891.1 713.5,1889.2C716.1,1887.3 716.0,1886.6 718.4,1884.3C720.7,1881.9 723.0,1878.0 726.5,1876.1C730.1,1874.2 733.8,1874.1 738.0,1873.8C742.1,1873.5 745.0,1874.1 749.4,1874.5C753.8,1874.9 758.3,1876.1 762.4,1876.1C766.6,1876.1 768.7,1876.0 772.2,1874.5C775.8,1873.0 778.5,1869.7 782.0,1868.0C785.6,1866.2 788.3,1865.9 791.8,1864.7C795.4,1863.5 798.7,1864.7 801.6,1861.4C804.6,1858.2 805.8,1851.4 808.2,1846.7C810.5,1842.0 812.3,1838.8 814.7,1835.3C817.0,1831.8 819.4,1828.6 821.2,1827.1C823.1,1825.7 822.6,1826.9 825.0,1827.1C827.4,1827.3 831.3,1827.8 834.8,1828.4C838.3,1829.0 841.4,1830.6 844.6,1830.4C847.8,1830.1 850.1,1829.0 852.8,1827.1C855.4,1825.2 856.9,1823.9 859.3,1819.6C861.6,1815.3 863.2,1808.1 865.8,1803.3C868.5,1798.4 871.0,1793.7 874.0,1792.5C876.9,1791.3 879.2,1794.2 882.1,1796.7C885.1,1799.3 887.4,1802.7 890.3,1806.5C893.2,1810.4 895.8,1815.6 898.5,1818.0C901.1,1820.3 902.6,1819.6 905.0,1819.6C907.4,1819.6 909.2,1819.7 911.5,1818.0C913.9,1816.2 916.0,1814.5 918.1,1809.8C920.1,1805.1 920.9,1798.3 923.0,1791.8C925.0,1785.4 926.8,1779.3 929.5,1773.9C932.1,1768.5 934.7,1764.4 937.7,1761.8C940.6,1759.2 942.9,1759.8 945.8,1759.2C948.8,1758.5 951.3,1757.3 954.0,1758.2C956.6,1759.1 958.2,1761.0 960.5,1764.1C962.9,1767.2 964.7,1770.5 967.0,1775.5C969.4,1780.5 971.5,1786.0 973.6,1791.8C975.6,1797.7 976.7,1801.4 978.5,1808.2C980.2,1814.9 981.6,1822.3 983.4,1829.4C985.1,1836.4 986.5,1842.4 988.3,1847.3C990.0,1852.3 991.4,1854.2 993.2,1857.1C994.9,1860.1 996.0,1861.6 998.1,1863.7C1000.1,1865.7 1002.2,1868.9 1004.6,1868.6C1006.9,1868.3 1008.8,1865.9 1011.1,1862.0C1013.5,1858.2 1015.3,1854.1 1017.7,1847.3C1020.0,1840.6 1021.8,1832.4 1024.2,1824.5C1026.5,1816.6 1028.4,1810.3 1030.7,1803.3C1033.1,1796.2 1034.3,1792.7 1037.2,1785.3C1040.2,1778.0 1043.5,1768.9 1047.0,1762.4C1050.6,1756.0 1053.3,1752.8 1056.8,1749.4C1060.4,1746.0 1063.1,1745.0 1066.6,1743.5C1070.2,1742.0 1073.2,1741.9 1076.4,1741.2C1079.7,1740.5 1082.2,1738.1 1084.6,1739.6C1086.9,1741.1 1088.0,1745.0 1089.5,1749.4C1091.0,1753.8 1091.0,1762.3 1092.8,1764.1C1094.5,1765.8 1096.9,1762.1 1099.3,1759.2C1101.6,1756.2 1103.2,1751.9 1105.8,1747.8C1108.5,1743.6 1111.0,1740.4 1114.0,1736.3C1116.9,1732.2 1119.5,1729.0 1122.1,1724.9C1124.8,1720.8 1126.6,1719.6 1128.7,1713.5C1130.7,1707.3 1131.8,1698.8 1133.6,1690.6C1135.3,1682.4 1136.4,1675.7 1138.5,1667.8C1140.5,1659.8 1142.6,1652.7 1145.0,1646.5C1147.4,1640.4 1149.2,1637.3 1151.5,1633.5C1153.9,1629.6 1155.4,1627.4 1158.1,1625.3C1160.7,1623.2 1163.9,1620.9 1166.2,1622.0C1168.6,1623.2 1169.4,1626.5 1171.1,1631.8C1172.9,1637.1 1174.6,1645.0 1176.0,1651.4C1177.5,1657.9 1178.4,1661.9 1179.3,1667.8C1180.2,1673.6 1180.6,1681.1 1180.9,1684.1L1180.9,2083.5C1179.7,2084.4 1177.0,2086.3 1174.4,2088.4C1171.7,2090.4 1169.2,2092.5 1166.2,2094.9C1163.3,2097.2 1160.7,2098.2 1158.1,2101.4C1155.4,2104.7 1154.2,2109.3 1151.5,2112.9C1148.9,2116.4 1146.3,2118.7 1143.4,2121.0C1140.4,2123.4 1138.1,2124.7 1135.2,2125.9C1132.3,2127.1 1129.4,2128.1 1127.0,2127.6C1124.7,2127.0 1124.2,2125.3 1122.1,2122.7C1120.1,2120.0 1118.0,2116.7 1115.6,2112.9C1113.3,2109.0 1111.4,2105.2 1109.1,2101.4C1106.7,2097.6 1104.9,2094.9 1102.6,2091.6C1100.2,2088.4 1099.0,2086.1 1096.0,2083.5C1093.1,2080.8 1089.8,2079.3 1086.2,2076.9C1082.7,2074.6 1080.0,2073.3 1076.4,2070.4C1072.9,2067.5 1069.6,2063.8 1066.6,2060.6C1063.7,2057.4 1062.5,2055.4 1060.1,2052.4C1057.8,2049.5 1056.5,2047.2 1053.6,2044.3C1050.6,2041.3 1047.3,2038.5 1043.8,2036.1C1040.2,2033.8 1037.5,2033.0 1034.0,2031.2C1030.5,2029.5 1027.7,2028.4 1024.2,2026.3C1020.7,2024.3 1017.9,2021.6 1014.4,2019.8C1010.9,2018.0 1008.1,2018.0 1004.6,2016.5C1001.1,2015.1 997.4,2013.7 994.8,2011.6C992.2,2009.6 992.0,2009.2 989.9,2005.1C987.8,2001.0 985.7,1995.2 983.4,1988.8C981.0,1982.3 979.2,1974.5 976.8,1969.2C974.5,1963.9 972.7,1962.9 970.3,1959.4C968.0,1955.9 966.1,1951.5 963.8,1949.6C961.4,1947.7 959.6,1948.4 957.2,1948.9C954.9,1949.5 953.4,1949.2 950.7,1952.9C948.1,1956.5 945.8,1962.1 942.6,1969.2C939.3,1976.2 936.3,1985.0 932.8,1992.0C929.2,1999.1 925.6,2003.1 923.0,2008.4C920.3,2013.7 919.8,2017.9 918.1,2021.4C916.3,2025.0 915.2,2025.6 913.2,2028.0C911.1,2030.3 908.4,2031.6 906.6,2034.5C904.9,2037.4 905.7,2044.0 903.4,2044.3C901.0,2044.6 897.1,2039.1 893.6,2036.1C890.0,2033.2 887.3,2030.6 883.8,2028.0C880.2,2025.3 877.2,2023.5 874.0,2021.4C870.7,2019.4 868.8,2019.8 865.8,2016.5C862.9,2013.3 860.9,2004.6 857.7,2003.5C854.4,2002.3 851.4,2005.6 847.9,2010.0C844.3,2014.4 842.2,2023.8 838.1,2028.0C833.9,2032.1 828.0,2031.7 825.0,2032.9C822.0,2034.0 823.7,2033.3 821.2,2034.5C818.8,2035.7 815.0,2037.6 811.4,2039.4C807.9,2041.2 805.2,2042.2 801.6,2044.3C798.1,2046.3 795.4,2048.2 791.8,2050.8C788.3,2053.5 785.6,2056.6 782.0,2059.0C778.5,2061.3 775.2,2061.2 772.2,2063.9C769.3,2066.5 768.7,2071.3 765.7,2073.7C762.8,2076.0 760.0,2075.8 755.9,2076.9C751.8,2078.1 747.0,2078.4 742.9,2080.2C738.7,2082.0 736.6,2084.7 733.1,2086.7C729.5,2088.8 726.8,2089.3 723.3,2091.6C719.7,2094.0 717.0,2096.6 713.5,2099.8C709.9,2103.0 706.9,2105.8 703.7,2109.6C700.4,2113.4 697.9,2116.9 695.5,2121.0C693.2,2125.1 695.6,2130.4 690.6,2132.4C685.6,2134.5 672.8,2134.8 667.8,2132.4C662.8,2130.1 665.2,2124.7 662.9,2119.4C660.5,2114.1 657.9,2107.8 654.7,2103.1C651.5,2098.4 648.4,2096.2 644.9,2093.3C641.4,2090.3 638.6,2088.5 635.1,2086.7C631.6,2085.0 630.0,2082.3 625.3,2083.5C620.6,2084.6 614.9,2091.8 609.0,2093.3C603.1,2094.7 597.9,2092.2 592.7,2091.6C587.4,2091.0 583.7,2089.7 579.6,2090.0C575.5,2090.3 573.3,2093.0 569.8,2093.3C566.3,2093.6 562.5,2093.4 560.0,2091.6C557.5,2089.9 558.4,2086.7 555.9,2083.5C553.4,2080.2 549.1,2077.5 546.1,2073.7C543.2,2069.9 541.9,2065.9 539.6,2062.2C537.2,2058.6 536.0,2055.7 533.1,2053.4C530.1,2051.2 526.8,2050.3 523.3,2049.8C519.7,2049.4 517.0,2050.1 513.5,2050.8C509.9,2051.6 507.2,2052.9 503.7,2054.1C500.1,2055.3 497.1,2055.0 493.9,2057.3C490.6,2059.7 488.1,2062.4 485.7,2067.1C483.4,2071.8 483.5,2078.5 480.8,2083.5C478.2,2088.5 474.5,2091.4 471.0,2094.9C467.5,2098.4 463.8,2099.2 461.2,2103.1C458.6,2106.9 457.8,2111.4 456.7,2116.1C455.5,2120.8 455.6,2125.1 454.7,2129.2C453.8,2133.3 494.5,2137.2 451.4,2139.0C408.4,2140.7 258.0,2139.0 215.5,2139.0Z" fill="#0000ff" fill-opacity="0.2" clip-path="url(#clipc)"/>
<path d="M215.5,2067.8C217.4,2068.6 222.4,2072.5 226.1,2072.0C229.8,2071.6 232.4,2067.9 235.9,2065.5C239.4,2063.2 241.9,2060.7 245.7,2059.0C249.5,2057.2 253.6,2056.0 257.1,2055.7C260.7,2055.4 262.1,2055.9 265.3,2057.3C268.5,2058.8 271.3,2061.5 275.1,2063.9C278.9,2066.2 282.4,2068.6 286.5,2070.4C290.6,2072.2 293.6,2072.7 298.0,2073.7C302.4,2074.7 306.6,2075.8 311.0,2076.0C315.4,2076.1 318.9,2075.6 322.4,2074.3C326.0,2073.0 327.4,2071.0 330.6,2068.8C333.8,2066.6 336.9,2063.7 340.4,2062.2C343.9,2060.8 346.7,2061.8 350.2,2060.6C353.7,2059.4 356.5,2057.3 360.0,2055.7C363.5,2054.1 366.6,2052.1 369.8,2051.8C373.0,2051.5 375.0,2052.5 378.0,2054.1C380.9,2055.7 382.9,2058.0 386.1,2060.6C389.4,2063.3 392.4,2066.7 395.9,2068.8C399.4,2070.8 402.2,2071.7 405.7,2072.0C409.2,2072.3 412.0,2071.2 415.5,2070.4C419.0,2069.6 421.8,2069.0 425.3,2067.8C428.8,2066.6 432.2,2065.8 435.1,2063.9C438.0,2062.0 439.3,2060.3 441.6,2057.3C444.0,2054.4 445.8,2052.3 448.2,2047.6C450.5,2042.8 452.3,2037.4 454.7,2031.2C457.0,2025.1 458.9,2018.6 461.2,2013.3C463.6,2008.0 465.4,2005.4 467.8,2001.8C470.1,1998.3 471.9,1996.0 474.3,1993.7C476.6,1991.3 479.1,1992.6 480.8,1988.8C482.6,1985.0 482.3,1978.0 484.1,1972.4C485.8,1966.9 488.3,1961.6 490.6,1957.8C493.0,1953.9 494.2,1953.9 497.1,1951.2C500.1,1948.6 503.4,1945.4 506.9,1943.1C510.5,1940.7 513.5,1939.2 516.7,1938.2C520.0,1937.2 522.0,1936.9 524.9,1937.5C527.8,1938.1 530.4,1939.5 533.1,1941.4C535.7,1943.3 536.7,1945.9 539.6,1948.0C542.5,1950.0 545.9,1951.1 549.4,1952.9C552.9,1954.6 557.3,1956.9 559.2,1957.8C561.1,1958.6 558.1,1957.2 560.0,1957.8C561.9,1958.3 566.3,1960.1 569.8,1961.0C573.3,1961.9 576.7,1962.7 579.6,1962.7C582.5,1962.7 583.8,1963.7 586.1,1961.0C588.5,1958.4 590.3,1952.7 592.7,1948.0C595.0,1943.3 596.8,1938.3 599.2,1934.9C601.5,1931.5 603.4,1930.2 605.7,1929.0C608.1,1927.8 609.9,1927.6 612.2,1928.4C614.6,1929.1 616.4,1929.7 618.8,1933.3C621.1,1936.8 623.0,1942.7 625.3,1948.0C627.7,1953.2 629.5,1958.5 631.8,1962.7C634.2,1966.8 635.7,1968.2 638.4,1970.8C641.0,1973.5 643.9,1974.1 646.5,1977.3C649.2,1980.6 650.7,1984.1 653.1,1988.8C655.4,1993.5 657.2,1999.1 659.6,2003.5C661.9,2007.9 663.8,2010.8 666.1,2013.3C668.5,2015.7 670.3,2017.0 672.7,2017.2C675.0,2017.4 676.5,2015.2 679.2,2014.2C681.8,2013.2 684.1,2013.3 687.3,2011.6C690.6,2010.0 693.6,2007.5 697.1,2005.1C700.7,2002.8 703.4,2000.9 706.9,1998.6C710.5,1996.2 713.2,1994.7 716.7,1992.0C720.3,1989.4 723.0,1986.2 726.5,1983.9C730.1,1981.5 732.8,1980.6 736.3,1979.0C739.9,1977.4 742.6,1975.6 746.1,1975.1C749.6,1974.5 752.4,1975.7 755.9,1975.7C759.4,1975.7 762.2,1976.2 765.7,1975.1C769.2,1973.9 772.0,1971.1 775.5,1969.2C779.0,1967.2 781.8,1966.6 785.3,1964.3C788.8,1961.9 792.2,1958.5 795.1,1956.1C798.0,1953.8 799.9,1953.6 801.6,1951.2C803.4,1948.9 802.8,1945.4 804.9,1943.1C807.0,1940.7 810.1,1940.0 813.1,1938.2C816.0,1936.3 819.1,1933.8 821.2,1932.6C823.4,1931.4 822.6,1932.2 825.0,1931.6C827.4,1931.0 831.3,1930.8 834.8,1929.3C838.3,1927.9 841.1,1926.0 844.6,1923.5C848.1,1920.9 850.9,1917.7 854.4,1915.3C857.9,1913.0 860.7,1911.6 864.2,1910.4C867.7,1909.2 870.5,1908.5 874.0,1908.8C877.5,1909.1 880.2,1909.4 883.8,1912.0C887.3,1914.7 890.3,1919.9 893.6,1923.5C896.8,1927.0 898.8,1931.6 901.7,1931.6C904.7,1931.6 907.3,1926.7 909.9,1923.5C912.5,1920.2 914.1,1919.0 916.4,1913.7C918.8,1908.4 920.6,1900.0 923.0,1894.1C925.3,1888.2 926.8,1886.0 929.5,1881.0C932.1,1876.0 934.7,1870.6 937.7,1866.3C940.6,1862.1 942.9,1859.7 945.8,1857.5C948.8,1855.3 951.3,1854.6 954.0,1854.2C956.6,1853.9 958.2,1854.0 960.5,1855.6C962.9,1857.1 964.7,1859.7 967.0,1863.1C969.4,1866.5 971.2,1869.5 973.6,1874.5C975.9,1879.5 978.0,1884.9 980.1,1890.8C982.2,1896.7 983.2,1901.0 985.0,1907.1C986.8,1913.3 987.8,1919.5 989.9,1925.1C992.0,1930.7 993.8,1934.3 996.4,1938.2C999.1,1942.0 1001.9,1945.7 1004.6,1946.3C1007.2,1946.9 1008.2,1943.8 1011.1,1941.4C1014.1,1939.1 1017.4,1936.8 1020.9,1933.3C1024.4,1929.7 1027.2,1926.0 1030.7,1921.8C1034.2,1917.7 1037.0,1913.8 1040.5,1910.4C1044.0,1907.1 1047.1,1905.0 1050.3,1903.2C1053.5,1901.5 1055.5,1900.8 1058.5,1900.6C1061.4,1900.4 1063.4,1901.4 1066.6,1902.2C1069.9,1903.1 1072.9,1904.6 1076.4,1905.5C1080.0,1906.4 1083.9,1905.4 1086.2,1907.1C1088.6,1908.9 1088.3,1912.7 1089.5,1915.3C1090.7,1918.0 1090.4,1921.0 1092.8,1921.8C1095.1,1922.7 1099.0,1920.5 1102.6,1920.2C1106.1,1919.9 1108.8,1920.0 1112.3,1920.2C1115.9,1920.4 1119.1,1920.6 1122.1,1921.2C1125.2,1921.8 1127.3,1925.4 1129.3,1923.5C1131.4,1921.5 1131.6,1915.7 1133.6,1910.4C1135.5,1905.1 1137.8,1899.4 1140.1,1894.1C1142.5,1888.8 1144.0,1885.7 1146.6,1881.0C1149.3,1876.3 1152.2,1871.5 1154.8,1868.0C1157.4,1864.4 1159.3,1863.3 1161.3,1861.4C1163.4,1859.5 1164.5,1857.2 1166.2,1857.5C1168.0,1857.8 1169.4,1860.6 1171.1,1863.1C1172.9,1865.5 1174.3,1868.0 1176.0,1871.2C1177.8,1874.5 1180.0,1879.3 1180.9,1881.0" fill="none" stroke="#0000ff" stroke-width="2.1" stroke-linejoin="round" clip-path="url(#clipc)"/>
<path d="M215.5,1956.1C216.5,1958.5 218.7,1964.5 221.2,1969.2C223.7,1973.9 226.7,1983.4 229.4,1982.2C232.0,1981.1 233.6,1969.1 235.9,1962.7C238.3,1956.2 240.1,1951.9 242.4,1946.3C244.8,1940.7 246.6,1937.5 249.0,1931.6C251.3,1925.8 253.2,1919.8 255.5,1913.7C257.9,1907.5 259.7,1901.2 262.0,1897.3C264.4,1893.5 265.9,1893.6 268.6,1892.4C271.2,1891.3 274.1,1892.9 276.7,1890.8C279.4,1888.8 280.9,1885.1 283.3,1881.0C285.6,1876.9 287.7,1870.9 289.8,1868.0C291.9,1865.0 292.9,1867.0 294.7,1864.7C296.5,1862.3 297.8,1858.7 299.6,1854.9C301.4,1851.1 302.7,1848.5 304.5,1843.5C306.3,1838.5 307.6,1831.8 309.4,1827.1C311.2,1822.4 312.2,1818.9 314.3,1817.3C316.3,1815.8 318.8,1818.6 320.8,1818.3C322.9,1818.0 323.8,1817.2 325.7,1815.7C327.6,1814.2 329.5,1809.0 331.3,1809.8C333.0,1810.7 333.9,1815.1 335.5,1820.6C337.2,1826.1 338.6,1832.9 340.4,1840.2C342.2,1847.6 343.5,1854.1 345.3,1861.4C347.1,1868.8 348.4,1875.4 350.2,1881.0C352.0,1886.6 353.3,1890.6 355.1,1892.4C356.9,1894.3 358.5,1894.7 360.0,1891.5C361.5,1888.2 362.1,1880.8 363.3,1874.5C364.4,1868.2 365.2,1861.1 366.5,1856.5C367.8,1852.0 368.7,1849.3 370.4,1849.3C372.2,1849.3 374.4,1854.6 376.3,1856.5C378.3,1858.4 379.5,1859.6 381.2,1859.8C383.0,1860.0 384.4,1858.8 386.1,1857.5C387.9,1856.2 389.4,1852.2 391.0,1852.6C392.7,1853.0 393.8,1854.7 395.3,1859.8C396.7,1864.9 397.6,1873.1 399.2,1881.0C400.8,1889.0 402.3,1896.8 404.1,1903.9C405.8,1910.9 407.5,1918.4 409.0,1920.2C410.4,1922.0 411.1,1918.4 412.2,1913.7C413.4,1909.0 414.3,1902.3 415.5,1894.1C416.7,1885.9 417.6,1877.4 418.8,1868.0C420.0,1858.6 420.6,1850.7 422.0,1841.8C423.5,1833.0 425.2,1826.9 426.9,1819.0C428.7,1811.0 430.1,1803.0 431.8,1797.8C433.6,1792.5 435.0,1791.5 436.7,1789.6C438.5,1787.7 439.9,1786.1 441.6,1787.0C443.4,1787.9 444.8,1791.7 446.5,1794.5C448.3,1797.3 449.4,1798.8 451.4,1802.7C453.5,1806.5 455.9,1814.5 458.0,1815.7C460.0,1816.9 461.1,1813.0 462.9,1809.2C464.6,1805.4 466.0,1798.0 467.8,1794.5C469.5,1791.0 470.9,1790.6 472.7,1789.6C474.4,1788.5 475.8,1788.3 477.6,1788.6C479.3,1788.9 481.0,1787.5 482.4,1791.2C483.9,1794.9 484.5,1802.4 485.7,1809.2C486.9,1815.9 487.5,1821.7 489.0,1828.8C490.4,1835.8 491.8,1844.3 493.9,1848.4C495.9,1852.5 498.1,1849.9 500.4,1851.6C502.8,1853.4 504.6,1854.0 506.9,1858.2C509.3,1862.3 511.4,1868.0 513.5,1874.5C515.5,1881.0 516.6,1888.2 518.4,1894.1C520.1,1900.0 521.2,1906.6 523.3,1907.1C525.3,1907.7 527.4,1901.2 529.8,1897.3C532.1,1893.5 534.3,1888.6 536.3,1885.9C538.4,1883.3 538.9,1882.1 541.2,1882.7C543.6,1883.2 546.2,1886.5 549.4,1889.2C552.6,1891.8 557.3,1895.3 559.2,1897.3C561.1,1899.4 558.1,1898.8 560.0,1900.6C561.9,1902.4 566.3,1903.3 569.8,1907.1C573.3,1911.0 576.1,1918.3 579.6,1921.8C583.1,1925.4 586.2,1928.2 589.4,1926.7C592.6,1925.3 594.9,1922.5 597.6,1913.7C600.2,1904.9 602.0,1888.9 604.1,1877.8C606.1,1866.6 606.9,1859.3 609.0,1851.6C611.0,1844.0 612.9,1839.1 615.5,1835.3C618.2,1831.5 621.0,1830.7 623.7,1830.4C626.3,1830.1 627.9,1831.0 630.2,1833.7C632.6,1836.3 634.4,1840.7 636.7,1845.1C639.1,1849.5 641.2,1853.8 643.3,1858.2C645.3,1862.6 645.5,1863.7 648.2,1869.6C650.8,1875.5 654.4,1885.2 658.0,1890.8C661.5,1896.4 665.1,1899.1 667.8,1900.6C670.4,1902.1 669.4,1902.5 672.7,1899.0C675.9,1895.5 682.5,1887.2 685.7,1881.0C688.9,1874.8 688.8,1871.7 690.6,1864.7C692.4,1857.6 693.6,1848.3 695.5,1841.8C697.4,1835.4 699.6,1829.4 701.4,1828.8C703.2,1828.2 703.7,1832.7 705.3,1838.6C706.9,1844.4 708.7,1854.4 710.2,1861.4C711.7,1868.5 712.3,1872.8 713.5,1877.8C714.6,1882.8 715.0,1886.8 716.7,1889.2C718.5,1891.5 721.2,1891.1 723.3,1890.8C725.3,1890.5 726.4,1885.8 728.2,1887.6C729.9,1889.3 731.0,1895.0 733.1,1900.6C735.1,1906.2 736.9,1913.3 739.6,1918.6C742.2,1923.9 744.8,1928.8 747.8,1930.0C750.7,1931.2 752.7,1926.9 755.9,1925.1C759.2,1923.3 762.8,1922.3 765.7,1920.2C768.7,1918.1 770.2,1916.6 772.2,1913.7C774.3,1910.7 775.4,1906.8 777.1,1903.9C778.9,1900.9 780.3,1897.1 782.0,1897.3C783.8,1897.6 785.2,1902.9 786.9,1905.5C788.7,1908.2 790.1,1912.9 791.8,1912.0C793.6,1911.2 795.3,1903.6 796.7,1900.6C798.2,1897.7 798.5,1894.5 800.0,1895.7C801.5,1896.9 803.1,1906.3 804.9,1907.1C806.7,1908.0 808.0,1903.6 809.8,1900.6C811.6,1897.7 812.6,1894.6 814.7,1890.8C816.8,1887.0 819.4,1881.7 821.2,1879.4C823.1,1877.0 822.6,1879.2 825.0,1877.8C827.4,1876.3 831.3,1874.8 834.8,1871.2C838.3,1867.7 841.7,1864.6 844.6,1858.2C847.5,1851.7 848.8,1841.8 851.1,1835.3C853.5,1828.8 854.7,1825.3 857.7,1822.2C860.6,1819.2 864.2,1817.4 867.4,1818.3C870.7,1819.2 873.0,1823.5 875.6,1827.1C878.3,1830.8 879.5,1836.2 882.1,1838.6C884.8,1840.9 887.7,1842.0 890.3,1840.2C893.0,1838.4 894.5,1832.5 896.8,1828.8C899.2,1825.1 900.9,1820.8 903.4,1819.6C905.8,1818.5 908.2,1818.8 910.6,1822.2C912.9,1825.7 914.2,1833.9 916.4,1838.6C918.7,1843.3 920.0,1848.1 923.0,1848.4C925.9,1848.7 930.1,1844.3 932.8,1840.2C935.4,1836.1 935.6,1830.8 937.7,1825.5C939.7,1820.2 941.8,1813.5 944.2,1810.8C946.5,1808.2 948.4,1811.4 950.7,1810.8C953.1,1810.2 955.2,1806.1 957.2,1807.6C959.3,1809.0 960.1,1814.3 962.1,1819.0C964.2,1823.7 966.0,1830.1 968.7,1833.7C971.3,1837.2 974.2,1835.6 976.8,1838.6C979.5,1841.5 981.3,1845.9 983.4,1850.0C985.4,1854.1 986.8,1860.0 988.3,1861.4C989.7,1862.9 990.4,1861.1 991.5,1858.2C992.7,1855.2 993.3,1850.1 994.8,1845.1C996.3,1840.1 997.6,1835.1 999.7,1830.4C1001.8,1825.7 1003.9,1824.6 1006.2,1819.0C1008.6,1813.4 1010.7,1806.4 1012.8,1799.4C1014.8,1792.3 1016.5,1784.7 1017.7,1779.8C1018.8,1774.9 1018.1,1775.4 1019.3,1772.2C1020.5,1769.1 1022.4,1763.9 1024.2,1762.4C1025.9,1761.0 1027.3,1762.9 1029.1,1764.1C1030.8,1765.3 1032.2,1769.3 1034.0,1769.0C1035.7,1768.7 1037.4,1768.3 1038.9,1762.4C1040.3,1756.6 1040.7,1745.1 1042.1,1736.3C1043.6,1727.5 1045.0,1721.1 1047.0,1713.5C1049.1,1705.8 1051.2,1699.8 1053.6,1693.9C1055.9,1688.0 1057.9,1684.9 1060.1,1680.8C1062.3,1676.7 1064.2,1671.3 1066.0,1671.0C1067.7,1670.7 1068.0,1675.7 1069.9,1679.2C1071.8,1682.7 1074.1,1686.8 1076.4,1690.6C1078.8,1694.4 1080.9,1695.7 1083.0,1700.4C1085.0,1705.1 1086.1,1710.9 1087.9,1716.7C1089.6,1722.6 1091.0,1726.6 1092.8,1733.1C1094.5,1739.5 1095.9,1745.6 1097.7,1752.7C1099.4,1759.7 1100.5,1767.0 1102.6,1772.2C1104.6,1777.5 1106.7,1779.1 1109.1,1782.0C1111.4,1785.0 1113.3,1785.9 1115.6,1788.6C1118.0,1791.2 1120.1,1794.1 1122.1,1796.7C1124.2,1799.4 1125.3,1803.6 1127.0,1803.3C1128.8,1803.0 1129.9,1796.6 1131.9,1795.1C1134.0,1793.6 1136.4,1792.8 1138.5,1795.1C1140.5,1797.5 1141.9,1800.5 1143.4,1808.2C1144.8,1815.8 1145.2,1829.3 1146.6,1837.6C1148.1,1845.8 1148.9,1848.0 1151.5,1853.9C1154.2,1859.8 1157.8,1864.6 1161.3,1870.2C1164.9,1875.8 1167.6,1880.2 1171.1,1884.9C1174.6,1889.6 1179.2,1894.3 1180.9,1896.3L1180.9,2019.8C1179.4,2019.2 1175.4,2018.3 1172.8,2016.5C1170.1,2014.8 1168.6,2011.5 1166.2,2010.0C1163.9,2008.5 1162.0,2011.0 1159.7,2008.4C1157.3,2005.7 1155.2,2000.6 1153.2,1995.3C1151.1,1990.0 1150.0,1985.2 1148.3,1979.0C1146.5,1972.8 1145.1,1962.8 1143.4,1961.0C1141.6,1959.3 1140.5,1965.4 1138.5,1969.2C1136.4,1973.0 1134.6,1977.0 1131.9,1982.2C1129.3,1987.5 1126.4,1992.7 1123.8,1998.6C1121.1,2004.4 1119.6,2009.0 1117.2,2014.9C1114.9,2020.8 1113.1,2025.9 1110.7,2031.2C1108.4,2036.5 1106.8,2041.3 1104.2,2044.3C1101.5,2047.2 1098.7,2048.7 1096.0,2047.6C1093.4,2046.4 1091.8,2042.5 1089.5,2037.8C1087.1,2033.1 1085.3,2027.3 1083.0,2021.4C1080.6,2015.6 1078.8,2010.4 1076.4,2005.1C1074.1,1999.8 1072.2,1996.7 1069.9,1992.0C1067.5,1987.3 1065.7,1979.0 1063.4,1979.0C1061.0,1979.0 1059.2,1987.6 1056.8,1992.0C1054.5,1996.4 1052.7,2000.2 1050.3,2003.5C1048.0,2006.7 1046.1,2008.5 1043.8,2010.0C1041.4,2011.5 1039.6,2012.5 1037.2,2011.6C1034.9,2010.8 1033.1,2007.5 1030.7,2005.1C1028.4,2002.8 1026.5,1998.6 1024.2,1998.6C1021.8,1998.6 1020.0,2003.0 1017.7,2005.1C1015.3,2007.2 1013.8,2008.5 1011.1,2010.0C1008.5,2011.5 1005.9,2013.0 1003.0,2013.3C1000.0,2013.6 997.1,2011.2 994.8,2011.6C992.4,2012.0 991.7,2016.1 989.9,2015.6C988.1,2015.0 986.8,2011.4 985.0,2008.4C983.2,2005.3 981.9,2003.0 980.1,1998.6C978.3,1994.2 977.0,1985.9 975.2,1983.9C973.4,1981.8 972.4,1986.8 970.3,1987.1C968.2,1987.4 965.8,1987.6 963.8,1985.5C961.7,1983.5 960.6,1976.0 958.9,1975.7C957.1,1975.4 956.3,1980.4 954.0,1983.9C951.6,1987.4 948.5,1990.3 945.8,1995.3C943.2,2000.3 941.6,2004.9 939.3,2011.6C936.9,2018.4 936.6,2029.9 932.8,2032.9C928.9,2035.8 921.9,2031.5 918.1,2028.0C914.2,2024.4 913.9,2018.0 911.5,2013.3C909.2,2008.6 907.6,2006.8 905.0,2001.8C902.4,1996.8 899.5,1990.5 896.8,1985.5C894.2,1980.5 893.0,1974.1 890.3,1974.1C887.7,1974.1 885.1,1982.3 882.1,1985.5C879.2,1988.7 877.2,1989.7 874.0,1992.0C870.7,1994.4 867.7,1996.5 864.2,1998.6C860.7,2000.6 857.9,2001.1 854.4,2003.5C850.9,2005.8 848.1,2011.3 844.6,2011.6C841.1,2011.9 838.3,2007.5 834.8,2005.1C831.3,2002.8 827.4,1998.6 825.0,1998.6C822.6,1998.6 823.1,2002.2 821.2,2005.1C819.4,2008.0 817.6,2012.0 814.7,2014.9C811.8,2017.8 808.4,2021.7 804.9,2021.4C801.4,2021.1 798.6,2015.0 795.1,2013.3C791.6,2011.5 788.8,2010.2 785.3,2011.6C781.8,2013.1 778.7,2017.9 775.5,2021.4C772.3,2025.0 770.3,2030.0 767.3,2031.2C764.4,2032.4 761.8,2026.8 759.2,2028.0C756.5,2029.1 755.0,2033.3 752.7,2037.8C750.3,2042.2 748.8,2053.6 746.1,2052.4C743.5,2051.3 740.6,2038.6 738.0,2031.2C735.3,2023.9 733.5,2017.5 731.4,2011.6C729.4,2005.8 728.6,2001.5 726.5,1998.6C724.5,1995.6 722.6,1997.7 720.0,1995.3C717.4,1993.0 714.8,1988.2 711.8,1985.5C708.9,1982.9 706.3,1981.2 703.7,1980.6C701.0,1980.0 699.5,1980.2 697.1,1982.2C694.8,1984.3 693.0,1987.3 690.6,1992.0C688.3,1996.7 687.0,2004.5 684.1,2008.4C681.1,2012.2 677.8,2012.4 674.3,2013.3C670.8,2014.1 668.3,2013.6 664.5,2013.3C660.7,2013.0 656.3,2013.1 653.1,2011.6C649.8,2010.2 648.9,2008.0 646.5,2005.1C644.2,2002.2 642.6,1999.4 640.0,1995.3C637.4,1991.2 634.5,1986.7 631.8,1982.2C629.2,1977.8 627.4,1973.2 625.3,1970.8C623.2,1968.5 622.8,1967.7 620.4,1969.2C618.1,1970.7 614.9,1974.3 612.2,1979.0C609.6,1983.7 607.8,1988.3 605.7,1995.3C603.7,2002.4 602.6,2009.3 600.8,2018.2C599.1,2027.0 597.7,2036.8 595.9,2044.3C594.2,2051.8 592.8,2057.6 591.0,2060.0C589.3,2062.3 588.2,2060.2 586.1,2057.3C584.1,2054.5 581.9,2048.4 579.6,2044.3C577.2,2040.2 575.4,2035.1 573.1,2034.5C570.7,2033.9 568.9,2040.4 566.5,2041.0C564.2,2041.6 561.9,2039.5 560.0,2037.8C558.1,2036.0 557.8,2034.2 555.9,2031.2C554.0,2028.3 552.0,2025.0 549.4,2021.4C546.7,2017.9 543.6,2012.8 541.2,2011.6C538.9,2010.5 538.4,2012.5 536.3,2014.9C534.3,2017.2 532.1,2024.1 529.8,2024.7C527.4,2025.3 525.3,2021.1 523.3,2018.2C521.2,2015.2 520.1,2011.9 518.4,2008.4C516.6,2004.8 515.5,2000.9 513.5,1998.6C511.4,1996.2 509.3,1995.3 506.9,1995.3C504.6,1995.3 502.8,1999.5 500.4,1998.6C498.1,1997.7 495.9,1993.9 493.9,1990.4C491.8,1986.9 490.7,1984.0 489.0,1979.0C487.2,1974.0 485.8,1967.2 484.1,1962.7C482.3,1958.1 480.9,1954.7 479.2,1953.5C477.4,1952.3 476.3,1953.9 474.3,1956.1C472.2,1958.4 470.1,1961.8 467.8,1965.9C465.4,1970.0 463.6,1975.5 461.2,1979.0C458.9,1982.5 457.0,1982.0 454.7,1985.5C452.3,1989.0 450.5,1994.8 448.2,1998.6C445.8,2002.4 444.3,2004.4 441.6,2006.7C439.0,2009.1 435.8,2007.5 433.5,2011.6C431.1,2015.7 430.6,2025.8 428.6,2029.6C426.5,2033.4 424.4,2031.7 422.0,2032.9C419.7,2034.0 417.6,2034.1 415.5,2036.1C413.5,2038.2 412.4,2043.4 410.6,2044.3C408.8,2045.2 407.8,2043.4 405.7,2041.0C403.7,2038.7 401.5,2033.9 399.2,2031.2C396.8,2028.6 395.0,2026.9 392.7,2026.3C390.3,2025.7 388.5,2026.2 386.1,2028.0C383.8,2029.7 381.9,2033.8 379.6,2036.1C377.2,2038.5 375.4,2040.4 373.1,2041.0C370.7,2041.6 368.9,2039.1 366.5,2039.4C364.2,2039.7 362.9,2042.4 360.0,2042.7C357.1,2042.9 353.7,2041.9 350.2,2041.0C346.7,2040.1 343.9,2038.9 340.4,2037.8C336.9,2036.6 333.6,2035.7 330.6,2034.5C327.7,2033.3 326.3,2033.7 324.1,2031.2C321.8,2028.8 320.3,2020.8 318.2,2020.8C316.1,2020.8 314.5,2026.4 312.7,2031.2C310.8,2036.0 309.8,2042.3 307.8,2047.6C305.7,2052.8 303.6,2057.7 301.2,2060.6C298.9,2063.6 297.3,2062.1 294.7,2063.9C292.0,2065.6 289.5,2068.1 286.5,2070.4C283.6,2072.8 281.6,2076.4 278.4,2076.9C275.1,2077.5 271.5,2074.0 268.6,2073.7C265.6,2073.4 264.1,2073.2 262.0,2075.3C260.0,2077.4 259.5,2082.2 257.1,2085.1C254.8,2088.0 252.2,2090.2 249.0,2091.6C245.7,2093.1 242.7,2092.4 239.2,2093.3C235.7,2094.1 232.3,2094.5 229.4,2096.5C226.4,2098.6 225.4,2103.5 222.9,2104.7C220.4,2105.9 216.8,2103.4 215.5,2103.1Z" fill="#ff0000" fill-opacity="0.2" clip-path="url(#clipc)"/>
<path d="M215.5,2021.4C215.6,2023.5 215.0,2030.2 216.3,2032.9C217.7,2035.5 220.5,2034.4 222.9,2036.1C225.2,2037.9 227.6,2042.9 229.4,2042.7C231.2,2042.4 230.9,2038.0 232.7,2034.5C234.4,2031.0 236.8,2026.9 239.2,2023.1C241.5,2019.2 243.1,2016.8 245.7,2013.3C248.4,2009.7 251.5,2006.7 253.9,2003.5C256.2,2000.2 257.0,1998.5 258.8,1995.3C260.5,1992.1 261.6,1987.6 263.7,1985.5C265.7,1983.5 267.9,1984.2 270.2,1983.9C272.6,1983.6 274.4,1985.3 276.7,1983.9C279.1,1982.4 281.2,1978.7 283.3,1975.7C285.3,1972.8 286.4,1970.2 288.2,1967.6C289.9,1964.9 291.3,1960.7 293.1,1961.0C294.8,1961.3 296.2,1969.5 298.0,1969.2C299.7,1968.9 301.1,1963.8 302.9,1959.4C304.6,1955.0 306.0,1950.3 307.8,1944.7C309.5,1939.1 310.9,1933.2 312.7,1928.4C314.4,1923.5 315.8,1918.8 317.6,1917.6C319.3,1916.4 321.0,1920.5 322.4,1921.8C323.9,1923.2 324.2,1925.5 325.7,1925.1C327.2,1924.7 328.8,1919.6 330.6,1919.6C332.4,1919.6 333.7,1921.8 335.5,1925.1C337.3,1928.5 338.6,1933.5 340.4,1938.2C342.2,1942.9 343.5,1946.8 345.3,1951.2C347.1,1955.6 348.4,1959.7 350.2,1962.7C352.0,1965.6 353.3,1967.0 355.1,1967.6C356.9,1968.1 358.5,1968.3 360.0,1965.9C361.5,1963.6 361.8,1958.0 363.3,1954.5C364.7,1951.0 366.4,1948.1 368.2,1946.3C369.9,1944.6 371.3,1943.6 373.1,1944.7C374.8,1945.8 376.2,1951.6 378.0,1952.2C379.7,1952.8 381.1,1950.2 382.9,1948.0C384.6,1945.7 386.0,1941.6 387.8,1939.8C389.5,1938.0 390.9,1936.7 392.7,1938.2C394.4,1939.6 395.8,1943.0 397.6,1948.0C399.3,1953.0 400.7,1960.0 402.4,1965.9C404.2,1971.8 405.7,1978.0 407.3,1980.6C409.0,1983.3 410.1,1984.7 411.6,1980.6C413.1,1976.5 413.9,1965.7 415.5,1957.8C417.1,1949.8 418.6,1941.8 420.4,1936.5C422.2,1931.2 423.8,1932.5 425.3,1928.4C426.8,1924.3 427.1,1918.7 428.6,1913.7C430.0,1908.7 431.4,1903.6 433.5,1900.6C435.5,1897.7 437.6,1897.8 440.0,1897.3C442.4,1896.9 444.2,1897.4 446.5,1898.3C448.9,1899.2 450.7,1900.7 453.1,1902.2C455.4,1903.8 457.5,1907.7 459.6,1907.1C461.6,1906.6 462.7,1903.1 464.5,1899.0C466.3,1894.9 467.6,1889.0 469.4,1884.3C471.2,1879.6 472.5,1875.3 474.3,1872.9C476.0,1870.4 477.4,1870.0 479.2,1870.6C480.9,1871.2 482.6,1871.3 484.1,1876.1C485.6,1880.9 485.9,1890.0 487.3,1897.3C488.8,1904.7 490.5,1911.9 492.2,1916.9C494.0,1921.9 495.1,1923.0 497.1,1925.1C499.2,1927.2 501.3,1927.5 503.7,1928.4C506.0,1929.2 508.1,1927.9 510.2,1930.0C512.3,1932.1 513.3,1935.1 515.1,1939.8C516.9,1944.5 517.9,1951.4 520.0,1956.1C522.1,1960.8 524.2,1965.3 526.5,1965.9C528.9,1966.5 530.7,1962.9 533.1,1959.4C535.4,1955.9 537.2,1947.8 539.6,1946.3C541.9,1944.9 543.8,1949.2 546.1,1951.2C548.5,1953.3 550.3,1955.1 552.7,1957.8C555.0,1960.4 557.9,1963.9 559.2,1965.9C560.5,1968.0 559.0,1968.0 560.0,1969.2C561.0,1970.4 563.1,1972.6 564.9,1972.4C566.7,1972.3 568.0,1967.9 569.8,1968.5C571.6,1969.1 572.9,1972.7 574.7,1975.7C576.5,1978.8 577.5,1982.3 579.6,1985.5C581.6,1988.7 583.8,1992.2 586.1,1993.7C588.5,1995.1 590.6,1996.3 592.7,1993.7C594.7,1991.0 595.8,1986.3 597.6,1979.0C599.3,1971.6 600.7,1962.3 602.4,1952.9C604.2,1943.5 605.6,1934.4 607.3,1926.7C609.1,1919.1 610.2,1914.8 612.2,1910.4C614.3,1906.0 616.6,1904.4 618.8,1902.2C621.0,1900.1 622.3,1897.4 624.3,1898.3C626.4,1899.2 627.7,1903.5 630.2,1907.1C632.7,1910.8 636.0,1914.2 638.4,1918.6C640.7,1923.0 641.2,1926.3 643.3,1931.6C645.3,1936.9 647.4,1943.6 649.8,1948.0C652.1,1952.4 653.7,1954.4 656.3,1956.1C659.0,1957.9 661.6,1958.2 664.5,1957.8C667.4,1957.3 670.0,1954.7 672.7,1953.8C675.3,1953.0 676.8,1954.8 679.2,1952.9C681.5,1950.9 683.7,1947.8 685.7,1943.1C687.8,1938.4 688.8,1932.6 690.6,1926.7C692.4,1920.9 693.6,1914.5 695.5,1910.4C697.4,1906.3 699.3,1903.9 701.4,1903.9C703.4,1903.9 705.1,1906.3 706.9,1910.4C708.8,1914.5 710.1,1920.9 711.8,1926.7C713.6,1932.6 714.7,1939.8 716.7,1943.1C718.8,1946.3 720.9,1944.7 723.3,1944.7C725.6,1944.7 727.7,1940.4 729.8,1943.1C731.9,1945.7 732.9,1952.9 734.7,1959.4C736.5,1965.9 737.7,1972.8 739.6,1979.0C741.5,1985.2 743.4,1992.5 745.5,1993.7C747.5,1994.8 749.1,1988.6 751.0,1985.5C752.9,1982.4 753.3,1978.0 755.9,1976.4C758.6,1974.7 762.8,1976.2 765.7,1976.4C768.7,1976.5 770.2,1979.2 772.2,1977.3C774.3,1975.5 775.4,1969.6 777.1,1965.9C778.9,1962.2 780.3,1958.2 782.0,1956.8C783.8,1955.3 785.5,1956.7 786.9,1957.8C788.4,1958.8 788.7,1962.4 790.2,1962.7C791.7,1962.9 793.3,1960.6 795.1,1959.4C796.9,1958.2 798.2,1955.2 800.0,1956.1C801.8,1957.0 802.8,1964.0 804.9,1964.3C807.0,1964.6 809.1,1960.7 811.4,1957.8C813.8,1954.8 815.6,1950.9 818.0,1948.0C820.3,1945.0 823.2,1942.9 824.5,1941.4C825.8,1940.0 823.4,1940.4 825.0,1939.8C826.6,1939.2 830.2,1938.3 833.2,1938.2C836.1,1938.0 838.7,1940.3 841.3,1939.1C844.0,1938.0 845.5,1935.9 847.9,1931.6C850.2,1927.3 851.7,1919.1 854.4,1915.3C857.0,1911.5 859.6,1911.9 862.6,1910.4C865.5,1908.9 867.8,1907.4 870.7,1907.1C873.7,1906.8 876.2,1908.2 878.9,1908.8C881.5,1909.4 883.1,1910.7 885.4,1910.4C887.8,1910.1 889.6,1908.1 891.9,1907.1C894.3,1906.1 896.1,1905.2 898.5,1904.9C900.8,1904.6 902.8,1903.9 905.0,1905.5C907.2,1907.1 908.8,1909.9 910.6,1913.7C912.3,1917.5 913.2,1922.3 914.8,1926.7C916.4,1931.1 917.6,1935.9 919.7,1938.2C921.8,1940.4 923.9,1939.3 926.2,1939.1C928.6,1939.0 930.7,1940.0 932.8,1937.2C934.8,1934.4 935.9,1928.9 937.7,1923.5C939.4,1918.1 940.8,1911.3 942.6,1907.1C944.3,1903.0 945.4,1902.1 947.4,1900.6C949.5,1899.1 951.9,1900.6 954.0,1899.0C956.0,1897.3 957.1,1891.2 958.9,1891.5C960.6,1891.8 962.0,1897.2 963.8,1900.6C965.5,1904.0 966.6,1908.9 968.7,1910.4C970.7,1911.9 973.1,1907.0 975.2,1908.8C977.3,1910.5 978.3,1915.8 980.1,1920.2C981.9,1924.6 983.2,1929.4 985.0,1933.3C986.8,1937.1 988.1,1943.2 989.9,1941.4C991.7,1939.7 992.7,1927.4 994.8,1923.5C996.9,1919.5 999.0,1921.3 1001.3,1919.6C1003.7,1917.8 1005.5,1917.1 1007.9,1913.7C1010.2,1910.3 1012.3,1905.3 1014.4,1900.6C1016.4,1895.9 1017.2,1891.5 1019.3,1887.6C1021.3,1883.6 1023.5,1879.6 1025.8,1878.7C1028.2,1877.9 1030.3,1881.4 1032.3,1882.7C1034.4,1883.9 1035.5,1888.0 1037.2,1885.9C1039.0,1883.9 1040.1,1876.2 1042.1,1871.2C1044.2,1866.2 1046.3,1863.5 1048.7,1858.2C1051.0,1852.9 1053.1,1846.8 1055.2,1841.8C1057.3,1836.8 1058.3,1833.5 1060.1,1830.4C1061.9,1827.4 1063.2,1824.6 1065.0,1824.9C1066.8,1825.2 1068.1,1828.1 1069.9,1832.0C1071.7,1836.0 1072.7,1843.2 1074.8,1846.7C1076.9,1850.3 1079.3,1847.8 1081.3,1851.6C1083.4,1855.5 1084.2,1862.1 1086.2,1868.0C1088.3,1873.8 1090.4,1878.4 1092.8,1884.3C1095.1,1890.2 1096.9,1895.6 1099.3,1900.6C1101.6,1905.6 1103.8,1910.3 1105.8,1912.0C1107.9,1913.8 1109.0,1912.5 1110.7,1910.4C1112.5,1908.4 1113.6,1901.9 1115.6,1900.6C1117.7,1899.3 1120.1,1903.2 1122.1,1903.2C1124.2,1903.2 1125.3,1902.8 1127.0,1900.6C1128.8,1898.4 1130.2,1893.9 1131.9,1890.8C1133.7,1887.8 1134.8,1885.3 1136.8,1883.6C1138.9,1882.0 1141.6,1878.6 1143.4,1881.7C1145.1,1884.7 1145.5,1893.1 1146.6,1900.6C1147.8,1908.1 1148.4,1917.6 1149.9,1923.5C1151.4,1929.3 1152.7,1930.0 1154.8,1933.3C1156.9,1936.5 1159.3,1940.0 1161.3,1941.4C1163.4,1942.9 1164.5,1940.0 1166.2,1941.4C1168.0,1942.9 1169.4,1947.2 1171.1,1949.6C1172.9,1951.9 1174.3,1952.7 1176.0,1954.5C1177.8,1956.3 1180.0,1958.5 1180.9,1959.4" fill="none" stroke="#ff0000" stroke-width="2.1" stroke-linejoin="round" clip-path="url(#clipc)"/>
<line x1="522.8" y1="58.2" x2="522.8" y2="577.6" stroke="#ff0000" stroke-width="2.8" stroke-dasharray="10.8 10.4"/>
<line x1="678.3" y1="58.2" x2="678.3" y2="577.6" stroke="#0000ff" stroke-width="2.8" stroke-dasharray="10.8 10.4"/>
<line x1="521.5" y1="642.5" x2="521.5" y2="1352.3" stroke="#ff0000" stroke-width="2.7" stroke-dasharray="10.8 10.4"/>
<line x1="675.6" y1="642.5" x2="675.6" y2="1352.3" stroke="#0000ff" stroke-width="2.7" stroke-dasharray="10.8 10.4"/>
<line x1="524.3" y1="1418.1" x2="524.3" y2="2128.2" stroke="#ff0000" stroke-width="2.5" stroke-dasharray="10.8 10.4"/>
<line x1="680" y1="1418.1" x2="680" y2="2128.2" stroke="#0000ff" stroke-width="4.3" stroke-dasharray="10.8 10.4"/>
<path d="M214.7,50.6V577.8H1182.55" fill="none" stroke="#262626" stroke-width="3.7"/><line x1="456" y1="577.8" x2="456" y2="566.8" stroke="#262626" stroke-width="3.7"/><line x1="697" y1="577.8" x2="697" y2="566.8" stroke="#262626" stroke-width="3.7"/><line x1="939" y1="577.8" x2="939" y2="566.8" stroke="#262626" stroke-width="3.7"/><line x1="1180.5" y1="577.8" x2="1180.5" y2="566.8" stroke="#262626" stroke-width="3.7"/><line x1="214.7" y1="140" x2="225.5" y2="140" stroke="#262626" stroke-width="3.7"/><line x1="214.7" y1="358.8" x2="225.5" y2="358.8" stroke="#262626" stroke-width="3.7"/>
<path d="M214.7,632.55V1352.3H1182.55" fill="none" stroke="#262626" stroke-width="3.7"/><line x1="456" y1="1352.3" x2="456" y2="1341.3" stroke="#262626" stroke-width="3.7"/><line x1="697" y1="1352.3" x2="697" y2="1341.3" stroke="#262626" stroke-width="3.7"/><line x1="939" y1="1352.3" x2="939" y2="1341.3" stroke="#262626" stroke-width="3.7"/><line x1="1180.5" y1="1352.3" x2="1180.5" y2="1341.3" stroke="#262626" stroke-width="3.7"/><line x1="214.7" y1="634.4" x2="225.5" y2="634.4" stroke="#262626" stroke-width="3.7"/><line x1="214.7" y1="813.9" x2="225.5" y2="813.9" stroke="#262626" stroke-width="3.7"/><line x1="214.7" y1="993.4" x2="225.5" y2="993.4" stroke="#262626" stroke-width="3.7"/><line x1="214.7" y1="1172.8" x2="225.5" y2="1172.8" stroke="#262626" stroke-width="3.7"/>
<path d="M214.7,1408.15V2128.2H1182.55" fill="none" stroke="#262626" stroke-width="3.7"/><line x1="456" y1="2128.2" x2="456" y2="2117.2" stroke="#262626" stroke-width="3.7"/><line x1="697" y1="2128.2" x2="697" y2="2117.2" stroke="#262626" stroke-width="3.7"/><line x1="939" y1="2128.2" x2="939" y2="2117.2" stroke="#262626" stroke-width="3.7"/><line x1="1180.5" y1="2128.2" x2="1180.5" y2="2117.2" stroke="#262626" stroke-width="3.7"/><line x1="214.7" y1="1410" x2="225.5" y2="1410" stroke="#262626" stroke-width="3.7"/><line x1="214.7" y1="1589.5" x2="225.5" y2="1589.5" stroke="#262626" stroke-width="3.7"/><line x1="214.7" y1="1769" x2="225.5" y2="1769" stroke="#262626" stroke-width="3.7"/><line x1="214.7" y1="1948.6" x2="225.5" y2="1948.6" stroke="#262626" stroke-width="3.7"/>
<rect x="214.4" y="2184.7" width="966.3" height="137.8" fill="url(#hm)" stroke="#262626" stroke-width="3.8"/>
<line x1="455" y1="2184.7" x2="455" y2="2195.5" stroke="#262626" stroke-width="3.6"/><line x1="455" y1="2322.5" x2="455" y2="2311.7" stroke="#262626" stroke-width="3.6"/>
<line x1="694.5" y1="2184.7" x2="694.5" y2="2195.5" stroke="#262626" stroke-width="3.6"/><line x1="694.5" y1="2322.5" x2="694.5" y2="2311.7" stroke="#262626" stroke-width="3.6"/>
<line x1="936" y1="2184.7" x2="936" y2="2195.5" stroke="#262626" stroke-width="3.6"/><line x1="936" y1="2322.5" x2="936" y2="2311.7" stroke="#262626" stroke-width="3.6"/>
<line x1="1177.5" y1="2184.7" x2="1177.5" y2="2195.5" stroke="#262626" stroke-width="3.6"/><line x1="1177.5" y1="2322.5" x2="1177.5" y2="2311.7" stroke="#262626" stroke-width="3.6"/>
<rect x="177.2" y="2182" width="22.6" height="140.7" fill="url(#cb)" stroke="#262626" stroke-width="3.6"/>
<line x1="833.2" y1="20.5" x2="1000.2" y2="20.5" stroke="#0000ff" stroke-width="3.2"/>
<line x1="833.2" y1="85.3" x2="1000.2" y2="85.3" stroke="#ff0000" stroke-width="3.2"/>
<text x="1013" y="41.3" font-size="54.5" text-anchor="start" fill="#111" font-family="'Liberation Serif', serif" >Controls</text>
<text x="1013.5" y="105.1" font-size="54.5" text-anchor="start" fill="#111" font-family="'Liberation Serif', serif" >Patients</text>
<text x="144.9" y="162.8" font-size="63" letter-spacing="-1.2" text-anchor="middle" fill="#262626" font-family="'Liberation Serif', serif">100</text>
<text x="160" y="381.5" font-size="63" letter-spacing="-1.2" text-anchor="middle" fill="#262626" font-family="'Liberation Serif', serif">50</text>
<text x="174.85" y="602.2" font-size="63" letter-spacing="-1.2" text-anchor="middle" fill="#262626" font-family="'Liberation Serif', serif">0</text>
<text x="151.8" y="656.8" font-size="63" letter-spacing="-1.2" text-anchor="middle" fill="#262626" font-family="'Liberation Serif', serif">0.2</text>
<text x="135.6" y="836.5" font-size="63" letter-spacing="-1.2" text-anchor="middle" fill="#262626" font-family="'Liberation Serif', serif">0.15</text>
<text x="148.75" y="1016.2" font-size="63" letter-spacing="-1.2" text-anchor="middle" fill="#262626" font-family="'Liberation Serif', serif">0.1</text>
<text x="135.7" y="1197.1" font-size="63" letter-spacing="-1.2" text-anchor="middle" fill="#262626" font-family="'Liberation Serif', serif">0.05</text>
<text x="175.4" y="1377.7" font-size="63" letter-spacing="-1.2" text-anchor="middle" fill="#262626" font-family="'Liberation Serif', serif">0</text>
<text x="150.5" y="1432" font-size="63" letter-spacing="-1.2" text-anchor="middle" fill="#262626" font-family="'Liberation Serif', serif">0.2</text>
<text x="135.6" y="1612.3" font-size="63" letter-spacing="-1.2" text-anchor="middle" fill="#262626" font-family="'Liberation Serif', serif">0.15</text>
<text x="148.75" y="1791.8" font-size="63" letter-spacing="-1.2" text-anchor="middle" fill="#262626" font-family="'Liberation Serif', serif">0.1</text>
<text x="135.7" y="1971.3" font-size="63" letter-spacing="-1.2" text-anchor="middle" fill="#262626" font-family="'Liberation Serif', serif">0.05</text>
<text x="174.7" y="2153" font-size="63" letter-spacing="-1.2" text-anchor="middle" fill="#262626" font-family="'Liberation Serif', serif">0</text>
<text x="155.3" y="2200.8" font-size="52" text-anchor="end" fill="#262626" font-family="'Liberation Serif', serif" >.94</text>
<text x="156.8" y="2342.3" font-size="52" text-anchor="end" fill="#262626" font-family="'Liberation Serif', serif" >0</text>
<text x="444.5" y="2402" font-size="62.5" letter-spacing="0" text-anchor="middle" fill="#262626" font-family="'Liberation Serif', serif">25</text>
<text x="688.5" y="2402" font-size="62.5" letter-spacing="0" text-anchor="middle" fill="#262626" font-family="'Liberation Serif', serif">50</text>
<text x="928" y="2402" font-size="62.5" letter-spacing="0" text-anchor="middle" fill="#262626" font-family="'Liberation Serif', serif">75</text>
<text x="1177.6" y="2402" font-size="62.5" letter-spacing="-2.2" text-anchor="middle" fill="#262626" font-family="'Liberation Serif', serif">100</text>
<text x="698.5" y="2481" font-size="67" text-anchor="middle" fill="#111" font-family="'Liberation Serif', serif" >Elbow extension movement time (%)</text>
<text transform="translate(50,314.4) rotate(-90)" font-size="66.5" text-anchor="middle" fill="#111" font-family="'Liberation Serif', serif">Angle (degree)</text>
<text transform="translate(54.3,1002.4) rotate(-90)" font-size="69.7" text-anchor="middle" fill="#111" font-family="'Liberation Serif', serif">Coherence (a.u)</text>
<text transform="translate(54.3,1776.7) rotate(-90)" font-size="69.7" text-anchor="middle" fill="#111" font-family="'Liberation Serif', serif">Coherence (a.u)</text>
<text transform="translate(49.5,2256.6) rotate(-90)" font-size="68.2" text-anchor="middle" fill="#111" font-family="'Liberation Serif', serif">Hedges' g</text>
<text x="1.5" y="38.3" font-size="52" fill="#000" font-family="'Liberation Sans', sans-serif" font-weight="bold">A</text>
<text x="-2" y="734" font-size="52" fill="#000" font-family="'Liberation Sans', sans-serif" font-weight="bold">B</text>
<text x="-0.8" y="1506.8" font-size="52" fill="#000" font-family="'Liberation Sans', sans-serif" font-weight="bold">C</text>
</svg>
</body></html>
